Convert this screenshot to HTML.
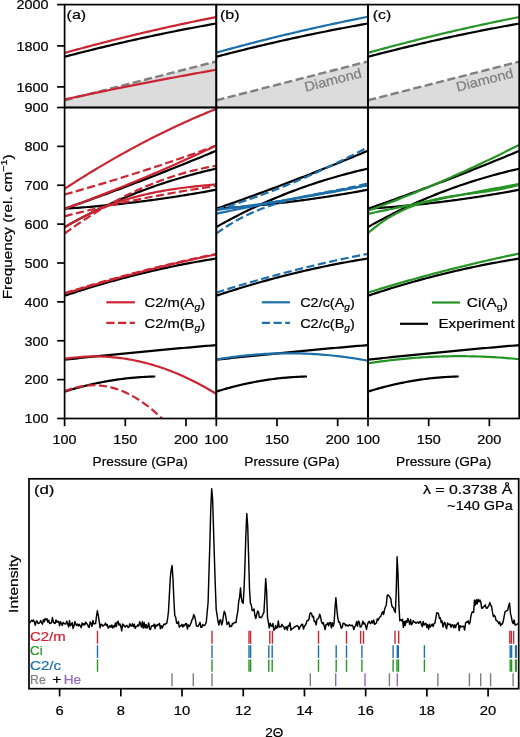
<!DOCTYPE html>
<html><head><meta charset="utf-8"><title>Figure</title>
<style>
html,body{margin:0;padding:0;background:#fff;width:520px;height:737px;overflow:hidden;}
svg{display:block;font-family:"Liberation Sans",sans-serif;will-change:transform;}
</style></head><body>
<svg width="520" height="737" viewBox="0 0 520 737" font-family="Liberation Sans, sans-serif">
<defs><clipPath id="u0"><rect x="64.6" y="4.6" width="151.7" height="102.9"/></clipPath><clipPath id="l0"><rect x="64.6" y="107.5" width="151.7" height="311"/></clipPath><clipPath id="u1"><rect x="216.3" y="4.6" width="151.7" height="102.9"/></clipPath><clipPath id="l1"><rect x="216.3" y="107.5" width="151.7" height="311"/></clipPath><clipPath id="u2"><rect x="368" y="4.6" width="151.2" height="102.9"/></clipPath><clipPath id="l2"><rect x="368" y="107.5" width="151.2" height="311"/></clipPath><clipPath id="dd"><rect x="29" y="478.8" width="489.7" height="209.9"/></clipPath></defs>
<rect width="520" height="737" fill="#fff"/>
<polygon points="64.6,100.3 216.3,61.47 216.3,107.5 64.6,107.5" fill="#dcdcdc"/>
<path d="M64.6,100.3 L216.3,61.47" fill="none" stroke="#7f7f7f" stroke-width="2.4" stroke-dasharray="8.2,3.5" clip-path="url(#u0)" stroke-linecap="butt" stroke-linejoin="round"/>
<path d="M64.6,56.78 L67.17,56.1 L69.74,55.43 L72.31,54.76 L74.88,54.1 L77.45,53.44 L80.02,52.79 L82.59,52.13 L85.16,51.49 L87.73,50.84 L90.29,50.2 L92.86,49.56 L95.43,48.93 L98,48.3 L100.57,47.68 L103.14,47.06 L105.71,46.44 L108.28,45.82 L110.85,45.21 L113.42,44.61 L115.99,44.01 L118.56,43.41 L121.13,42.81 L123.7,42.22 L126.27,41.64 L128.84,41.05 L131.41,40.47 L133.98,39.9 L136.55,39.33 L139.12,38.76 L141.68,38.19 L144.25,37.63 L146.82,37.08 L149.39,36.53 L151.96,35.98 L154.53,35.43 L157.1,34.89 L159.67,34.35 L162.24,33.82 L164.81,33.29 L167.38,32.77 L169.95,32.24 L172.52,31.73 L175.09,31.21 L177.66,30.7 L180.23,30.19 L182.8,29.69 L185.37,29.19 L187.94,28.7 L190.51,28.21 L193.07,27.72 L195.64,27.24 L198.21,26.76 L200.78,26.28 L203.35,25.81 L205.92,25.34 L208.49,24.88 L211.06,24.42 L213.63,23.96 L216.2,23.51" fill="none" stroke="#000" stroke-width="2.2" clip-path="url(#u0)" stroke-linecap="butt" stroke-linejoin="round"/>
<path d="M64.6,52.93 L67.17,52.22 L69.74,51.51 L72.31,50.8 L74.88,50.1 L77.45,49.41 L80.02,48.71 L82.59,48.02 L85.16,47.34 L87.73,46.65 L90.29,45.98 L92.86,45.3 L95.43,44.63 L98,43.96 L100.57,43.29 L103.14,42.63 L105.71,41.97 L108.28,41.32 L110.85,40.67 L113.42,40.02 L115.99,39.38 L118.56,38.74 L121.13,38.1 L123.7,37.47 L126.27,36.84 L128.84,36.22 L131.41,35.59 L133.98,34.97 L136.55,34.36 L139.12,33.75 L141.68,33.14 L144.25,32.54 L146.82,31.94 L149.39,31.34 L151.96,30.74 L154.53,30.15 L157.1,29.57 L159.67,28.98 L162.24,28.41 L164.81,27.83 L167.38,27.26 L169.95,26.69 L172.52,26.12 L175.09,25.56 L177.66,25 L180.23,24.45 L182.8,23.9 L185.37,23.35 L187.94,22.81 L190.51,22.27 L193.07,21.73 L195.64,21.2 L198.21,20.67 L200.78,20.14 L203.35,19.62 L205.92,19.1 L208.49,18.59 L211.06,18.07 L213.63,17.57 L216.2,17.06" fill="none" stroke="#cc2532" stroke-width="2.2" clip-path="url(#u0)" stroke-linecap="butt" stroke-linejoin="round"/>
<path d="M64.6,99.41 L67.17,98.86 L69.74,98.31 L72.31,97.76 L74.88,97.22 L77.45,96.67 L80.02,96.13 L82.59,95.59 L85.16,95.05 L87.73,94.51 L90.29,93.98 L92.86,93.44 L95.43,92.91 L98,92.38 L100.57,91.85 L103.14,91.32 L105.71,90.8 L108.28,90.27 L110.85,89.75 L113.42,89.23 L115.99,88.71 L118.56,88.2 L121.13,87.68 L123.7,87.17 L126.27,86.65 L128.84,86.14 L131.41,85.63 L133.98,85.13 L136.55,84.62 L139.12,84.12 L141.68,83.61 L144.25,83.11 L146.82,82.61 L149.39,82.11 L151.96,81.62 L154.53,81.12 L157.1,80.63 L159.67,80.14 L162.24,79.65 L164.81,79.16 L167.38,78.68 L169.95,78.19 L172.52,77.71 L175.09,77.23 L177.66,76.75 L180.23,76.27 L182.8,75.8 L185.37,75.32 L187.94,74.85 L190.51,74.38 L193.07,73.91 L195.64,73.44 L198.21,72.97 L200.78,72.51 L203.35,72.05 L205.92,71.59 L208.49,71.13 L211.06,70.67 L213.63,70.21 L216.2,69.76" fill="none" stroke="#cc2532" stroke-width="2.2" clip-path="url(#u0)" stroke-linecap="butt" stroke-linejoin="round"/>
<polygon points="216.3,100.3 368,61.47 368,107.5 216.3,107.5" fill="#dcdcdc"/>
<path d="M216.3,100.3 L368,61.47" fill="none" stroke="#7f7f7f" stroke-width="2.4" stroke-dasharray="8.2,3.5" clip-path="url(#u1)" stroke-linecap="butt" stroke-linejoin="round"/>
<path d="M216.3,56.78 L218.87,56.1 L221.44,55.43 L224.01,54.76 L226.58,54.1 L229.15,53.44 L231.72,52.79 L234.29,52.13 L236.86,51.49 L239.43,50.84 L241.99,50.2 L244.56,49.56 L247.13,48.93 L249.7,48.3 L252.27,47.68 L254.84,47.06 L257.41,46.44 L259.98,45.82 L262.55,45.21 L265.12,44.61 L267.69,44.01 L270.26,43.41 L272.83,42.81 L275.4,42.22 L277.97,41.64 L280.54,41.05 L283.11,40.47 L285.68,39.9 L288.25,39.33 L290.82,38.76 L293.38,38.19 L295.95,37.63 L298.52,37.08 L301.09,36.53 L303.66,35.98 L306.23,35.43 L308.8,34.89 L311.37,34.35 L313.94,33.82 L316.51,33.29 L319.08,32.77 L321.65,32.24 L324.22,31.73 L326.79,31.21 L329.36,30.7 L331.93,30.19 L334.5,29.69 L337.07,29.19 L339.64,28.7 L342.21,28.21 L344.77,27.72 L347.34,27.24 L349.91,26.76 L352.48,26.28 L355.05,25.81 L357.62,25.34 L360.19,24.88 L362.76,24.42 L365.33,23.96 L367.9,23.51" fill="none" stroke="#000" stroke-width="2.2" clip-path="url(#u1)" stroke-linecap="butt" stroke-linejoin="round"/>
<path d="M216.3,52.63 L218.87,51.92 L221.44,51.21 L224.01,50.5 L226.58,49.8 L229.15,49.11 L231.72,48.41 L234.29,47.72 L236.86,47.04 L239.43,46.35 L241.99,45.68 L244.56,45 L247.13,44.33 L249.7,43.66 L252.27,42.99 L254.84,42.33 L257.41,41.67 L259.98,41.02 L262.55,40.37 L265.12,39.72 L267.69,39.08 L270.26,38.44 L272.83,37.8 L275.4,37.17 L277.97,36.54 L280.54,35.92 L283.11,35.29 L285.68,34.67 L288.25,34.06 L290.82,33.45 L293.38,32.84 L295.95,32.24 L298.52,31.64 L301.09,31.04 L303.66,30.44 L306.23,29.85 L308.8,29.27 L311.37,28.68 L313.94,28.11 L316.51,27.53 L319.08,26.96 L321.65,26.39 L324.22,25.82 L326.79,25.26 L329.36,24.7 L331.93,24.15 L334.5,23.6 L337.07,23.05 L339.64,22.51 L342.21,21.97 L344.77,21.43 L347.34,20.9 L349.91,20.37 L352.48,19.84 L355.05,19.32 L357.62,18.8 L360.19,18.29 L362.76,17.77 L365.33,17.27 L367.9,16.76" fill="none" stroke="#1c6faa" stroke-width="2.2" clip-path="url(#u1)" stroke-linecap="butt" stroke-linejoin="round"/>
<polygon points="368,100.3 519.2,61.6 519.2,107.5 368,107.5" fill="#dcdcdc"/>
<path d="M368,100.3 L519.2,61.6" fill="none" stroke="#7f7f7f" stroke-width="2.4" stroke-dasharray="8.2,3.5" clip-path="url(#u2)" stroke-linecap="butt" stroke-linejoin="round"/>
<path d="M368,56.78 L370.57,56.1 L373.14,55.43 L375.71,54.76 L378.28,54.1 L380.85,53.44 L383.42,52.79 L385.99,52.13 L388.56,51.49 L391.13,50.84 L393.69,50.2 L396.26,49.56 L398.83,48.93 L401.4,48.3 L403.97,47.68 L406.54,47.06 L409.11,46.44 L411.68,45.82 L414.25,45.21 L416.82,44.61 L419.39,44.01 L421.96,43.41 L424.53,42.81 L427.1,42.22 L429.67,41.64 L432.24,41.05 L434.81,40.47 L437.38,39.9 L439.95,39.33 L442.52,38.76 L445.08,38.19 L447.65,37.63 L450.22,37.08 L452.79,36.53 L455.36,35.98 L457.93,35.43 L460.5,34.89 L463.07,34.35 L465.64,33.82 L468.21,33.29 L470.78,32.77 L473.35,32.24 L475.92,31.73 L478.49,31.21 L481.06,30.7 L483.63,30.19 L486.2,29.69 L488.77,29.19 L491.34,28.7 L493.91,28.21 L496.47,27.72 L499.04,27.24 L501.61,26.76 L504.18,26.28 L506.75,25.81 L509.32,25.34 L511.89,24.88 L514.46,24.42 L517.03,23.96 L519.6,23.51" fill="none" stroke="#000" stroke-width="2.2" clip-path="url(#u2)" stroke-linecap="butt" stroke-linejoin="round"/>
<path d="M368,52.83 L370.57,52.12 L373.14,51.41 L375.71,50.7 L378.28,50 L380.85,49.31 L383.42,48.61 L385.99,47.92 L388.56,47.24 L391.13,46.55 L393.69,45.88 L396.26,45.2 L398.83,44.53 L401.4,43.86 L403.97,43.19 L406.54,42.53 L409.11,41.87 L411.68,41.22 L414.25,40.57 L416.82,39.92 L419.39,39.28 L421.96,38.64 L424.53,38 L427.1,37.37 L429.67,36.74 L432.24,36.12 L434.81,35.49 L437.38,34.87 L439.95,34.26 L442.52,33.65 L445.08,33.04 L447.65,32.44 L450.22,31.84 L452.79,31.24 L455.36,30.64 L457.93,30.05 L460.5,29.47 L463.07,28.88 L465.64,28.31 L468.21,27.73 L470.78,27.16 L473.35,26.59 L475.92,26.02 L478.49,25.46 L481.06,24.9 L483.63,24.35 L486.2,23.8 L488.77,23.25 L491.34,22.71 L493.91,22.17 L496.47,21.63 L499.04,21.1 L501.61,20.57 L504.18,20.04 L506.75,19.52 L509.32,19 L511.89,18.49 L514.46,17.97 L517.03,17.47 L519.6,16.96" fill="none" stroke="#269526" stroke-width="2.2" clip-path="url(#u2)" stroke-linecap="butt" stroke-linejoin="round"/>
<text x="305.8" y="91.8" font-size="13.5" fill="#7f7f7f" transform="rotate(-14.4 305.8 91.8)" textLength="58.5" lengthAdjust="spacingAndGlyphs" stroke="#7f7f7f" stroke-width="0.22">Diamond</text>
<text x="457.5" y="91.8" font-size="13.5" fill="#7f7f7f" transform="rotate(-14.4 457.5 91.8)" textLength="58.5" lengthAdjust="spacingAndGlyphs" stroke="#7f7f7f" stroke-width="0.22">Diamond</text>
<path d="M64.6,208.75 L67.17,207.85 L69.74,206.96 L72.31,206.06 L74.88,205.16 L77.45,204.25 L80.02,203.35 L82.59,202.44 L85.16,201.52 L87.73,200.6 L90.29,199.68 L92.86,198.76 L95.43,197.83 L98,196.9 L100.57,195.97 L103.14,195.03 L105.71,194.1 L108.28,193.15 L110.85,192.21 L113.42,191.26 L115.99,190.31 L118.56,189.35 L121.13,188.39 L123.7,187.43 L126.27,186.47 L128.84,185.5 L131.41,184.53 L133.98,183.56 L136.55,182.58 L139.12,181.6 L141.68,180.62 L144.25,179.63 L146.82,178.64 L149.39,177.65 L151.96,176.66 L154.53,175.66 L157.1,174.66 L159.67,173.65 L162.24,172.64 L164.81,171.63 L167.38,170.62 L169.95,169.6 L172.52,168.58 L175.09,167.55 L177.66,166.53 L180.23,165.5 L182.8,164.47 L185.37,163.43 L187.94,162.39 L190.51,161.35 L193.07,160.3 L195.64,159.25 L198.21,158.2 L200.78,157.15 L203.35,156.09 L205.92,155.03 L208.49,153.96 L211.06,152.89 L213.63,151.82 L216.2,150.75" fill="none" stroke="#000" stroke-width="2.2" clip-path="url(#l0)" stroke-linecap="butt" stroke-linejoin="round"/>
<path d="M64.6,227.04 L67.17,225.59 L69.74,224.16 L72.31,222.75 L74.88,221.36 L77.45,219.98 L80.02,218.62 L82.59,217.28 L85.16,215.95 L87.73,214.64 L90.29,213.35 L92.86,212.07 L95.43,210.81 L98,209.57 L100.57,208.35 L103.14,207.14 L105.71,205.94 L108.28,204.76 L110.85,203.6 L113.42,202.46 L115.99,201.33 L118.56,200.21 L121.13,199.12 L123.7,198.03 L126.27,196.97 L128.84,195.91 L131.41,194.88 L133.98,193.86 L136.55,192.85 L139.12,191.86 L141.68,190.88 L144.25,189.92 L146.82,188.98 L149.39,188.04 L151.96,187.13 L154.53,186.22 L157.1,185.33 L159.67,184.46 L162.24,183.6 L164.81,182.75 L167.38,181.92 L169.95,181.1 L172.52,180.3 L175.09,179.51 L177.66,178.73 L180.23,177.97 L182.8,177.21 L185.37,176.48 L187.94,175.75 L190.51,175.04 L193.07,174.34 L195.64,173.66 L198.21,172.99 L200.78,172.33 L203.35,171.68 L205.92,171.05 L208.49,170.43 L211.06,169.82 L213.63,169.22 L216.2,168.63" fill="none" stroke="#000" stroke-width="2.2" clip-path="url(#l0)" stroke-linecap="butt" stroke-linejoin="round"/>
<path d="M64.6,208.68 L67.17,208.52 L69.74,208.35 L72.31,208.18 L74.88,208 L77.45,207.81 L80.02,207.62 L82.59,207.43 L85.16,207.23 L87.73,207.02 L90.29,206.81 L92.86,206.59 L95.43,206.37 L98,206.14 L100.57,205.9 L103.14,205.66 L105.71,205.42 L108.28,205.17 L110.85,204.91 L113.42,204.65 L115.99,204.38 L118.56,204.11 L121.13,203.83 L123.7,203.55 L126.27,203.26 L128.84,202.97 L131.41,202.67 L133.98,202.36 L136.55,202.05 L139.12,201.74 L141.68,201.41 L144.25,201.09 L146.82,200.76 L149.39,200.42 L151.96,200.07 L154.53,199.72 L157.1,199.37 L159.67,199.01 L162.24,198.65 L164.81,198.27 L167.38,197.9 L169.95,197.52 L172.52,197.13 L175.09,196.74 L177.66,196.34 L180.23,195.94 L182.8,195.53 L185.37,195.11 L187.94,194.69 L190.51,194.27 L193.07,193.84 L195.64,193.4 L198.21,192.96 L200.78,192.51 L203.35,192.06 L205.92,191.6 L208.49,191.14 L211.06,190.67 L213.63,190.19 L216.2,189.71" fill="none" stroke="#000" stroke-width="2.2" clip-path="url(#l0)" stroke-linecap="butt" stroke-linejoin="round"/>
<path d="M64.6,295.7 L67.17,294.85 L69.74,294 L72.31,293.17 L74.88,292.34 L77.45,291.52 L80.02,290.7 L82.59,289.9 L85.16,289.1 L87.73,288.31 L90.29,287.52 L92.86,286.75 L95.43,285.98 L98,285.22 L100.57,284.47 L103.14,283.72 L105.71,282.98 L108.28,282.26 L110.85,281.53 L113.42,280.82 L115.99,280.11 L118.56,279.41 L121.13,278.72 L123.7,278.04 L126.27,277.36 L128.84,276.69 L131.41,276.03 L133.98,275.38 L136.55,274.73 L139.12,274.09 L141.68,273.46 L144.25,272.84 L146.82,272.22 L149.39,271.62 L151.96,271.02 L154.53,270.42 L157.1,269.84 L159.67,269.26 L162.24,268.69 L164.81,268.13 L167.38,267.58 L169.95,267.03 L172.52,266.49 L175.09,265.96 L177.66,265.44 L180.23,264.92 L182.8,264.41 L185.37,263.91 L187.94,263.42 L190.51,262.93 L193.07,262.46 L195.64,261.99 L198.21,261.52 L200.78,261.07 L203.35,260.62 L205.92,260.18 L208.49,259.75 L211.06,259.33 L213.63,258.91 L216.2,258.5" fill="none" stroke="#000" stroke-width="2.2" clip-path="url(#l0)" stroke-linecap="butt" stroke-linejoin="round"/>
<path d="M64.6,359.67 L67.17,359.39 L69.74,359.12 L72.31,358.84 L74.88,358.57 L77.45,358.29 L80.02,358.02 L82.59,357.75 L85.16,357.48 L87.73,357.21 L90.29,356.94 L92.86,356.68 L95.43,356.41 L98,356.14 L100.57,355.88 L103.14,355.62 L105.71,355.36 L108.28,355.09 L110.85,354.84 L113.42,354.58 L115.99,354.32 L118.56,354.06 L121.13,353.81 L123.7,353.55 L126.27,353.3 L128.84,353.05 L131.41,352.8 L133.98,352.55 L136.55,352.3 L139.12,352.05 L141.68,351.8 L144.25,351.56 L146.82,351.31 L149.39,351.07 L151.96,350.82 L154.53,350.58 L157.1,350.34 L159.67,350.1 L162.24,349.86 L164.81,349.63 L167.38,349.39 L169.95,349.15 L172.52,348.92 L175.09,348.69 L177.66,348.45 L180.23,348.22 L182.8,347.99 L185.37,347.76 L187.94,347.54 L190.51,347.31 L193.07,347.08 L195.64,346.86 L198.21,346.63 L200.78,346.41 L203.35,346.19 L205.92,345.97 L208.49,345.75 L211.06,345.53 L213.63,345.31 L216.2,345.1" fill="none" stroke="#000" stroke-width="2.2" clip-path="url(#l0)" stroke-linecap="butt" stroke-linejoin="round"/>
<path d="M64.6,391.6 L66.14,391.12 L67.67,390.66 L69.21,390.19 L70.75,389.74 L72.29,389.29 L73.82,388.85 L75.36,388.42 L76.9,388 L78.44,387.58 L79.97,387.17 L81.51,386.77 L83.05,386.38 L84.58,385.99 L86.12,385.61 L87.66,385.24 L89.2,384.88 L90.73,384.53 L92.27,384.18 L93.81,383.84 L95.35,383.51 L96.88,383.18 L98.42,382.86 L99.96,382.55 L101.49,382.25 L103.03,381.96 L104.57,381.67 L106.11,381.39 L107.64,381.12 L109.18,380.86 L110.72,380.6 L112.26,380.35 L113.79,380.11 L115.33,379.88 L116.87,379.65 L118.41,379.43 L119.94,379.22 L121.48,379.02 L123.02,378.82 L124.55,378.64 L126.09,378.46 L127.63,378.28 L129.17,378.12 L130.7,377.96 L132.24,377.81 L133.78,377.67 L135.32,377.53 L136.85,377.41 L138.39,377.29 L139.93,377.18 L141.46,377.07 L143,376.98 L144.54,376.89 L146.08,376.81 L147.61,376.73 L149.15,376.67 L150.69,376.61 L152.23,376.56 L153.76,376.51 L155.3,376.48" fill="none" stroke="#000" stroke-width="2.2" clip-path="url(#l0)" stroke-linecap="butt" stroke-linejoin="round"/>
<path d="M64.6,188.8 L67.17,187.13 L69.74,185.47 L72.31,183.81 L74.88,182.17 L77.45,180.54 L80.02,178.93 L82.59,177.32 L85.16,175.72 L87.73,174.14 L90.29,172.56 L92.86,171 L95.43,169.45 L98,167.91 L100.57,166.37 L103.14,164.86 L105.71,163.35 L108.28,161.85 L110.85,160.36 L113.42,158.89 L115.99,157.42 L118.56,155.97 L121.13,154.53 L123.7,153.1 L126.27,151.68 L128.84,150.27 L131.41,148.87 L133.98,147.48 L136.55,146.11 L139.12,144.74 L141.68,143.39 L144.25,142.04 L146.82,140.71 L149.39,139.39 L151.96,138.08 L154.53,136.78 L157.1,135.49 L159.67,134.21 L162.24,132.95 L164.81,131.69 L167.38,130.45 L169.95,129.21 L172.52,127.99 L175.09,126.78 L177.66,125.58 L180.23,124.39 L182.8,123.21 L185.37,122.05 L187.94,120.89 L190.51,119.75 L193.07,118.61 L195.64,117.49 L198.21,116.38 L200.78,115.27 L203.35,114.18 L205.92,113.11 L208.49,112.04 L211.06,110.98 L213.63,109.93 L216.2,108.9" fill="none" stroke="#cc2532" stroke-width="2.2" clip-path="url(#l0)" stroke-linecap="butt" stroke-linejoin="round"/>
<path d="M64.6,194.5 L67.17,193.79 L69.74,193.07 L72.31,192.35 L74.88,191.62 L77.45,190.89 L80.02,190.16 L82.59,189.42 L85.16,188.67 L87.73,187.93 L90.29,187.18 L92.86,186.42 L95.43,185.66 L98,184.9 L100.57,184.14 L103.14,183.37 L105.71,182.59 L108.28,181.81 L110.85,181.03 L113.42,180.25 L115.99,179.46 L118.56,178.66 L121.13,177.86 L123.7,177.06 L126.27,176.26 L128.84,175.45 L131.41,174.63 L133.98,173.82 L136.55,173 L139.12,172.17 L141.68,171.34 L144.25,170.51 L146.82,169.67 L149.39,168.83 L151.96,167.99 L154.53,167.14 L157.1,166.28 L159.67,165.43 L162.24,164.57 L164.81,163.7 L167.38,162.83 L169.95,161.96 L172.52,161.09 L175.09,160.21 L177.66,159.32 L180.23,158.43 L182.8,157.54 L185.37,156.65 L187.94,155.75 L190.51,154.84 L193.07,153.93 L195.64,153.02 L198.21,152.11 L200.78,151.19 L203.35,150.26 L205.92,149.34 L208.49,148.41 L211.06,147.47 L213.63,146.53 L216.2,145.59" fill="none" stroke="#cc2532" stroke-width="2.2" stroke-dasharray="8.2,3.5" clip-path="url(#l0)" stroke-linecap="butt" stroke-linejoin="round"/>
<path d="M64.6,208.84 L67.17,207.91 L69.74,206.98 L72.31,206.04 L74.88,205.1 L77.45,204.15 L80.02,203.19 L82.59,202.24 L85.16,201.27 L87.73,200.3 L90.29,199.33 L92.86,198.35 L95.43,197.37 L98,196.38 L100.57,195.39 L103.14,194.39 L105.71,193.39 L108.28,192.38 L110.85,191.36 L113.42,190.35 L115.99,189.32 L118.56,188.29 L121.13,187.26 L123.7,186.22 L126.27,185.18 L128.84,184.13 L131.41,183.08 L133.98,182.02 L136.55,180.95 L139.12,179.88 L141.68,178.81 L144.25,177.73 L146.82,176.65 L149.39,175.56 L151.96,174.46 L154.53,173.37 L157.1,172.26 L159.67,171.15 L162.24,170.04 L164.81,168.92 L167.38,167.79 L169.95,166.67 L172.52,165.53 L175.09,164.39 L177.66,163.25 L180.23,162.1 L182.8,160.94 L185.37,159.79 L187.94,158.62 L190.51,157.45 L193.07,156.28 L195.64,155.1 L198.21,153.91 L200.78,152.72 L203.35,151.53 L205.92,150.33 L208.49,149.13 L211.06,147.92 L213.63,146.7 L216.2,145.48" fill="none" stroke="#cc2532" stroke-width="2.2" clip-path="url(#l0)" stroke-linecap="butt" stroke-linejoin="round"/>
<path d="M64.6,216.21 L67.17,215.56 L69.74,214.92 L72.31,214.28 L74.88,213.65 L77.45,213.02 L80.02,212.39 L82.59,211.77 L85.16,211.16 L87.73,210.54 L90.29,209.94 L92.86,209.34 L95.43,208.74 L98,208.15 L100.57,207.56 L103.14,206.98 L105.71,206.4 L108.28,205.82 L110.85,205.25 L113.42,204.69 L115.99,204.13 L118.56,203.57 L121.13,203.02 L123.7,202.48 L126.27,201.94 L128.84,201.4 L131.41,200.87 L133.98,200.34 L136.55,199.82 L139.12,199.3 L141.68,198.78 L144.25,198.28 L146.82,197.77 L149.39,197.27 L151.96,196.78 L154.53,196.28 L157.1,195.8 L159.67,195.32 L162.24,194.84 L164.81,194.37 L167.38,193.9 L169.95,193.44 L172.52,192.98 L175.09,192.53 L177.66,192.08 L180.23,191.63 L182.8,191.19 L185.37,190.76 L187.94,190.33 L190.51,189.9 L193.07,189.48 L195.64,189.07 L198.21,188.65 L200.78,188.25 L203.35,187.84 L205.92,187.45 L208.49,187.05 L211.06,186.66 L213.63,186.28 L216.2,185.9" fill="none" stroke="#cc2532" stroke-width="2.2" stroke-dasharray="8.2,3.5" clip-path="url(#l0)" stroke-linecap="butt" stroke-linejoin="round"/>
<path d="M64.6,227.58 L66.52,226.38 L68.44,225.2 L70.36,224.05 L72.28,222.92 L74.19,221.82 L76.11,220.73 L78.03,219.67 L79.95,218.63 L81.87,217.61 L83.79,216.62 L85.71,215.64 L87.63,214.69 L89.55,213.76 L91.47,212.84 L93.38,211.95 L95.3,211.08 L97.22,210.23 L99.14,209.39 L101.06,208.58 L102.98,207.78 L104.9,207 L106.82,206.24 L108.74,205.5 L110.66,204.78 L112.57,204.07 L114.49,203.38 L116.41,202.71 L118.33,202.06 L120.25,201.42 L122.17,200.79 L124.09,200.19 L126.01,199.6 L127.93,199.02 L129.85,198.46 L131.76,197.91 L133.68,197.38 L135.6,196.86 L137.52,196.36 L139.44,195.87 L141.36,195.39 L143.28,194.93 L145.2,194.48 L147.12,194.04 L149.04,193.61 L150.95,193.2 L152.87,192.8 L154.79,192.41 L156.71,192.03 L158.63,191.66 L160.55,191.3 L162.47,190.95 L164.39,190.62 L166.31,190.29 L168.23,189.97 L170.14,189.67 L172.06,189.37 L173.98,189.08 L175.9,188.8 L177.82,188.52 L179.74,188.26 L181.66,188 L183.58,187.75 L185.5,187.51 L187.42,187.28 L189.33,187.05 L191.25,186.83 L193.17,186.61 L195.09,186.4 L197.01,186.2 L198.93,186 L200.85,185.8 L202.77,185.62 L204.69,185.43 L206.61,185.25 L208.52,185.08 L210.44,184.9 L212.36,184.73 L214.28,184.57 L216.2,184.41" fill="none" stroke="#cc2532" stroke-width="2.2" clip-path="url(#l0)" stroke-linecap="butt" stroke-linejoin="round"/>
<path d="M64.6,233.55 L67.17,231.67 L69.74,229.82 L72.31,227.99 L74.88,226.19 L77.45,224.41 L80.02,222.66 L82.59,220.93 L85.16,219.24 L87.73,217.56 L90.29,215.92 L92.86,214.29 L95.43,212.7 L98,211.13 L100.57,209.58 L103.14,208.07 L105.71,206.57 L108.28,205.1 L110.85,203.66 L113.42,202.24 L115.99,200.85 L118.56,199.49 L121.13,198.14 L123.7,196.83 L126.27,195.54 L128.84,194.27 L131.41,193.03 L133.98,191.81 L136.55,190.62 L139.12,189.45 L141.68,188.31 L144.25,187.2 L146.82,186.1 L149.39,185.04 L151.96,183.99 L154.53,182.97 L157.1,181.98 L159.67,181.01 L162.24,180.07 L164.81,179.15 L167.38,178.25 L169.95,177.38 L172.52,176.53 L175.09,175.71 L177.66,174.91 L180.23,174.13 L182.8,173.38 L185.37,172.65 L187.94,171.95 L190.51,171.27 L193.07,170.61 L195.64,169.98 L198.21,169.37 L200.78,168.79 L203.35,168.23 L205.92,167.69 L208.49,167.18 L211.06,166.69 L213.63,166.22 L216.2,165.78" fill="none" stroke="#cc2532" stroke-width="2.2" stroke-dasharray="8.2,3.5" clip-path="url(#l0)" stroke-linecap="butt" stroke-linejoin="round"/>
<path d="M64.6,293.2 L67.17,292.39 L69.74,291.59 L72.31,290.8 L74.88,290 L77.45,289.22 L80.02,288.44 L82.59,287.66 L85.16,286.89 L87.73,286.12 L90.29,285.36 L92.86,284.6 L95.43,283.85 L98,283.1 L100.57,282.36 L103.14,281.62 L105.71,280.89 L108.28,280.16 L110.85,279.43 L113.42,278.72 L115.99,278 L118.56,277.29 L121.13,276.59 L123.7,275.89 L126.27,275.2 L128.84,274.51 L131.41,273.83 L133.98,273.15 L136.55,272.47 L139.12,271.8 L141.68,271.14 L144.25,270.48 L146.82,269.82 L149.39,269.18 L151.96,268.53 L154.53,267.89 L157.1,267.26 L159.67,266.63 L162.24,266 L164.81,265.38 L167.38,264.76 L169.95,264.15 L172.52,263.55 L175.09,262.95 L177.66,262.35 L180.23,261.76 L182.8,261.17 L185.37,260.59 L187.94,260.02 L190.51,259.45 L193.07,258.88 L195.64,258.32 L198.21,257.76 L200.78,257.21 L203.35,256.66 L205.92,256.12 L208.49,255.58 L211.06,255.05 L213.63,254.52 L216.2,254" fill="none" stroke="#cc2532" stroke-width="2.2" stroke-dasharray="8.2,3.5" clip-path="url(#l0)" stroke-linecap="butt" stroke-linejoin="round"/>
<path d="M64.6,293.8 L67.17,293 L69.74,292.2 L72.31,291.4 L74.88,290.62 L77.45,289.83 L80.02,289.05 L82.59,288.28 L85.16,287.51 L87.73,286.74 L90.29,285.98 L92.86,285.22 L95.43,284.47 L98,283.72 L100.57,282.98 L103.14,282.24 L105.71,281.51 L108.28,280.78 L110.85,280.06 L113.42,279.34 L115.99,278.62 L118.56,277.91 L121.13,277.21 L123.7,276.51 L126.27,275.81 L128.84,275.12 L131.41,274.44 L133.98,273.75 L136.55,273.08 L139.12,272.4 L141.68,271.74 L144.25,271.07 L146.82,270.42 L149.39,269.76 L151.96,269.11 L154.53,268.47 L157.1,267.83 L159.67,267.19 L162.24,266.56 L164.81,265.94 L167.38,265.32 L169.95,264.7 L172.52,264.09 L175.09,263.48 L177.66,262.88 L180.23,262.28 L182.8,261.69 L185.37,261.1 L187.94,260.51 L190.51,259.93 L193.07,259.36 L195.64,258.79 L198.21,258.23 L200.78,257.66 L203.35,257.11 L205.92,256.56 L208.49,256.01 L211.06,255.47 L213.63,254.93 L216.2,254.4" fill="none" stroke="#cc2532" stroke-width="2.2" clip-path="url(#l0)" stroke-linecap="butt" stroke-linejoin="round"/>
<path d="M64.6,358.84 L67.17,358.45 L69.74,358.1 L72.31,357.78 L74.88,357.5 L77.45,357.25 L80.02,357.03 L82.59,356.85 L85.16,356.7 L87.73,356.58 L90.29,356.5 L92.86,356.45 L95.43,356.44 L98,356.46 L100.57,356.51 L103.14,356.6 L105.71,356.72 L108.28,356.87 L110.85,357.06 L113.42,357.28 L115.99,357.54 L118.56,357.83 L121.13,358.15 L123.7,358.51 L126.27,358.9 L128.84,359.32 L131.41,359.78 L133.98,360.27 L136.55,360.8 L139.12,361.36 L141.68,361.95 L144.25,362.58 L146.82,363.24 L149.39,363.94 L151.96,364.67 L154.53,365.43 L157.1,366.23 L159.67,367.06 L162.24,367.92 L164.81,368.82 L167.38,369.75 L169.95,370.71 L172.52,371.71 L175.09,372.75 L177.66,373.81 L180.23,374.91 L182.8,376.05 L185.37,377.22 L187.94,378.42 L190.51,379.65 L193.07,380.92 L195.64,382.23 L198.21,383.56 L200.78,384.94 L203.35,386.34 L205.92,387.78 L208.49,389.25 L211.06,390.76 L213.63,392.3 L216.2,393.87" fill="none" stroke="#cc2532" stroke-width="2.2" clip-path="url(#l0)" stroke-linecap="butt" stroke-linejoin="round"/>
<path d="M64.6,391.29 L66.38,390.58 L68.16,389.9 L69.94,389.28 L71.72,388.7 L73.5,388.16 L75.28,387.67 L77.06,387.23 L78.84,386.83 L80.62,386.47 L82.4,386.17 L84.18,385.9 L85.96,385.68 L87.74,385.51 L89.52,385.38 L91.29,385.3 L93.07,385.26 L94.85,385.27 L96.63,385.32 L98.41,385.42 L100.19,385.56 L101.97,385.75 L103.75,385.98 L105.53,386.26 L107.31,386.58 L109.09,386.95 L110.87,387.36 L112.65,387.82 L114.43,388.33 L116.21,388.88 L117.99,389.47 L119.77,390.11 L121.55,390.8 L123.33,391.53 L125.11,392.3 L126.89,393.12 L128.67,393.99 L130.45,394.9 L132.23,395.86 L134.01,396.86 L135.79,397.9 L137.57,399 L139.35,400.13 L141.13,401.32 L142.91,402.54 L144.68,403.82 L146.46,405.13 L148.24,406.5 L150.02,407.9 L151.8,409.36 L153.58,410.86 L155.36,412.4 L157.14,413.99 L158.92,415.62 L160.7,417.3 L162.48,419.03 L164.26,420.8 L166.04,422.61 L167.82,424.47 L169.6,426.38" fill="none" stroke="#cc2532" stroke-width="2.2" stroke-dasharray="8.2,3.5" clip-path="url(#l0)" stroke-linecap="butt" stroke-linejoin="round"/>
<path d="M216.3,208.75 L218.87,207.85 L221.44,206.96 L224.01,206.06 L226.58,205.16 L229.15,204.25 L231.72,203.35 L234.29,202.44 L236.86,201.52 L239.43,200.6 L241.99,199.68 L244.56,198.76 L247.13,197.83 L249.7,196.9 L252.27,195.97 L254.84,195.03 L257.41,194.1 L259.98,193.15 L262.55,192.21 L265.12,191.26 L267.69,190.31 L270.26,189.35 L272.83,188.39 L275.4,187.43 L277.97,186.47 L280.54,185.5 L283.11,184.53 L285.68,183.56 L288.25,182.58 L290.82,181.6 L293.38,180.62 L295.95,179.63 L298.52,178.64 L301.09,177.65 L303.66,176.66 L306.23,175.66 L308.8,174.66 L311.37,173.65 L313.94,172.64 L316.51,171.63 L319.08,170.62 L321.65,169.6 L324.22,168.58 L326.79,167.55 L329.36,166.53 L331.93,165.5 L334.5,164.47 L337.07,163.43 L339.64,162.39 L342.21,161.35 L344.77,160.3 L347.34,159.25 L349.91,158.2 L352.48,157.15 L355.05,156.09 L357.62,155.03 L360.19,153.96 L362.76,152.89 L365.33,151.82 L367.9,150.75" fill="none" stroke="#000" stroke-width="2.2" clip-path="url(#l1)" stroke-linecap="butt" stroke-linejoin="round"/>
<path d="M216.3,227.04 L218.87,225.59 L221.44,224.16 L224.01,222.75 L226.58,221.36 L229.15,219.98 L231.72,218.62 L234.29,217.28 L236.86,215.95 L239.43,214.64 L241.99,213.35 L244.56,212.07 L247.13,210.81 L249.7,209.57 L252.27,208.35 L254.84,207.14 L257.41,205.94 L259.98,204.76 L262.55,203.6 L265.12,202.46 L267.69,201.33 L270.26,200.21 L272.83,199.12 L275.4,198.03 L277.97,196.97 L280.54,195.91 L283.11,194.88 L285.68,193.86 L288.25,192.85 L290.82,191.86 L293.38,190.88 L295.95,189.92 L298.52,188.98 L301.09,188.04 L303.66,187.13 L306.23,186.22 L308.8,185.33 L311.37,184.46 L313.94,183.6 L316.51,182.75 L319.08,181.92 L321.65,181.1 L324.22,180.3 L326.79,179.51 L329.36,178.73 L331.93,177.97 L334.5,177.21 L337.07,176.48 L339.64,175.75 L342.21,175.04 L344.77,174.34 L347.34,173.66 L349.91,172.99 L352.48,172.33 L355.05,171.68 L357.62,171.05 L360.19,170.43 L362.76,169.82 L365.33,169.22 L367.9,168.63" fill="none" stroke="#000" stroke-width="2.2" clip-path="url(#l1)" stroke-linecap="butt" stroke-linejoin="round"/>
<path d="M216.3,208.68 L218.87,208.52 L221.44,208.35 L224.01,208.18 L226.58,208 L229.15,207.81 L231.72,207.62 L234.29,207.43 L236.86,207.23 L239.43,207.02 L241.99,206.81 L244.56,206.59 L247.13,206.37 L249.7,206.14 L252.27,205.9 L254.84,205.66 L257.41,205.42 L259.98,205.17 L262.55,204.91 L265.12,204.65 L267.69,204.38 L270.26,204.11 L272.83,203.83 L275.4,203.55 L277.97,203.26 L280.54,202.97 L283.11,202.67 L285.68,202.36 L288.25,202.05 L290.82,201.74 L293.38,201.41 L295.95,201.09 L298.52,200.76 L301.09,200.42 L303.66,200.07 L306.23,199.72 L308.8,199.37 L311.37,199.01 L313.94,198.65 L316.51,198.27 L319.08,197.9 L321.65,197.52 L324.22,197.13 L326.79,196.74 L329.36,196.34 L331.93,195.94 L334.5,195.53 L337.07,195.11 L339.64,194.69 L342.21,194.27 L344.77,193.84 L347.34,193.4 L349.91,192.96 L352.48,192.51 L355.05,192.06 L357.62,191.6 L360.19,191.14 L362.76,190.67 L365.33,190.19 L367.9,189.71" fill="none" stroke="#000" stroke-width="2.2" clip-path="url(#l1)" stroke-linecap="butt" stroke-linejoin="round"/>
<path d="M216.3,295.7 L218.87,294.85 L221.44,294 L224.01,293.17 L226.58,292.34 L229.15,291.52 L231.72,290.7 L234.29,289.9 L236.86,289.1 L239.43,288.31 L241.99,287.52 L244.56,286.75 L247.13,285.98 L249.7,285.22 L252.27,284.47 L254.84,283.72 L257.41,282.98 L259.98,282.26 L262.55,281.53 L265.12,280.82 L267.69,280.11 L270.26,279.41 L272.83,278.72 L275.4,278.04 L277.97,277.36 L280.54,276.69 L283.11,276.03 L285.68,275.38 L288.25,274.73 L290.82,274.09 L293.38,273.46 L295.95,272.84 L298.52,272.22 L301.09,271.62 L303.66,271.02 L306.23,270.42 L308.8,269.84 L311.37,269.26 L313.94,268.69 L316.51,268.13 L319.08,267.58 L321.65,267.03 L324.22,266.49 L326.79,265.96 L329.36,265.44 L331.93,264.92 L334.5,264.41 L337.07,263.91 L339.64,263.42 L342.21,262.93 L344.77,262.46 L347.34,261.99 L349.91,261.52 L352.48,261.07 L355.05,260.62 L357.62,260.18 L360.19,259.75 L362.76,259.33 L365.33,258.91 L367.9,258.5" fill="none" stroke="#000" stroke-width="2.2" clip-path="url(#l1)" stroke-linecap="butt" stroke-linejoin="round"/>
<path d="M216.3,359.67 L218.87,359.39 L221.44,359.12 L224.01,358.84 L226.58,358.57 L229.15,358.29 L231.72,358.02 L234.29,357.75 L236.86,357.48 L239.43,357.21 L241.99,356.94 L244.56,356.68 L247.13,356.41 L249.7,356.14 L252.27,355.88 L254.84,355.62 L257.41,355.36 L259.98,355.09 L262.55,354.84 L265.12,354.58 L267.69,354.32 L270.26,354.06 L272.83,353.81 L275.4,353.55 L277.97,353.3 L280.54,353.05 L283.11,352.8 L285.68,352.55 L288.25,352.3 L290.82,352.05 L293.38,351.8 L295.95,351.56 L298.52,351.31 L301.09,351.07 L303.66,350.82 L306.23,350.58 L308.8,350.34 L311.37,350.1 L313.94,349.86 L316.51,349.63 L319.08,349.39 L321.65,349.15 L324.22,348.92 L326.79,348.69 L329.36,348.45 L331.93,348.22 L334.5,347.99 L337.07,347.76 L339.64,347.54 L342.21,347.31 L344.77,347.08 L347.34,346.86 L349.91,346.63 L352.48,346.41 L355.05,346.19 L357.62,345.97 L360.19,345.75 L362.76,345.53 L365.33,345.31 L367.9,345.1" fill="none" stroke="#000" stroke-width="2.2" clip-path="url(#l1)" stroke-linecap="butt" stroke-linejoin="round"/>
<path d="M216.3,391.6 L217.84,391.12 L219.37,390.66 L220.91,390.19 L222.45,389.74 L223.99,389.29 L225.52,388.85 L227.06,388.42 L228.6,388 L230.14,387.58 L231.67,387.17 L233.21,386.77 L234.75,386.38 L236.28,385.99 L237.82,385.61 L239.36,385.24 L240.9,384.88 L242.43,384.53 L243.97,384.18 L245.51,383.84 L247.05,383.51 L248.58,383.18 L250.12,382.86 L251.66,382.55 L253.19,382.25 L254.73,381.96 L256.27,381.67 L257.81,381.39 L259.34,381.12 L260.88,380.86 L262.42,380.6 L263.96,380.35 L265.49,380.11 L267.03,379.88 L268.57,379.65 L270.11,379.43 L271.64,379.22 L273.18,379.02 L274.72,378.82 L276.25,378.64 L277.79,378.46 L279.33,378.28 L280.87,378.12 L282.4,377.96 L283.94,377.81 L285.48,377.67 L287.02,377.53 L288.55,377.41 L290.09,377.29 L291.63,377.18 L293.16,377.07 L294.7,376.98 L296.24,376.89 L297.78,376.81 L299.31,376.73 L300.85,376.67 L302.39,376.61 L303.93,376.56 L305.46,376.51 L307,376.48" fill="none" stroke="#000" stroke-width="2.2" clip-path="url(#l1)" stroke-linecap="butt" stroke-linejoin="round"/>
<path d="M216.3,209.9 L218.87,209.13 L221.44,208.36 L224.01,207.57 L226.58,206.77 L229.15,205.96 L231.72,205.14 L234.29,204.32 L236.86,203.48 L239.43,202.63 L241.99,201.77 L244.56,200.9 L247.13,200.02 L249.7,199.13 L252.27,198.23 L254.84,197.32 L257.41,196.4 L259.98,195.47 L262.55,194.53 L265.12,193.58 L267.69,192.62 L270.26,191.65 L272.83,190.67 L275.4,189.67 L277.97,188.67 L280.54,187.66 L283.11,186.64 L285.68,185.61 L288.25,184.56 L290.82,183.51 L293.38,182.45 L295.95,181.38 L298.52,180.29 L301.09,179.2 L303.66,178.1 L306.23,176.98 L308.8,175.86 L311.37,174.73 L313.94,173.58 L316.51,172.43 L319.08,171.26 L321.65,170.09 L324.22,168.91 L326.79,167.71 L329.36,166.51 L331.93,165.29 L334.5,164.07 L337.07,162.83 L339.64,161.58 L342.21,160.33 L344.77,159.06 L347.34,157.79 L349.91,156.5 L352.48,155.2 L355.05,153.9 L357.62,152.58 L360.19,151.25 L362.76,149.92 L365.33,148.57 L367.9,147.21" fill="none" stroke="#1c6faa" stroke-width="2.2" stroke-dasharray="8.2,3.5" clip-path="url(#l1)" stroke-linecap="butt" stroke-linejoin="round"/>
<path d="M216.3,209.96 L218.87,209.64 L221.44,209.33 L224.01,209.01 L226.58,208.68 L229.15,208.35 L231.72,208.02 L234.29,207.68 L236.86,207.34 L239.43,207 L241.99,206.65 L244.56,206.3 L247.13,205.94 L249.7,205.58 L252.27,205.22 L254.84,204.85 L257.41,204.48 L259.98,204.1 L262.55,203.73 L265.12,203.34 L267.69,202.96 L270.26,202.57 L272.83,202.17 L275.4,201.78 L277.97,201.37 L280.54,200.97 L283.11,200.56 L285.68,200.15 L288.25,199.73 L290.82,199.31 L293.38,198.89 L295.95,198.46 L298.52,198.03 L301.09,197.59 L303.66,197.15 L306.23,196.71 L308.8,196.26 L311.37,195.81 L313.94,195.36 L316.51,194.9 L319.08,194.44 L321.65,193.97 L324.22,193.5 L326.79,193.03 L329.36,192.55 L331.93,192.07 L334.5,191.59 L337.07,191.1 L339.64,190.6 L342.21,190.11 L344.77,189.61 L347.34,189.1 L349.91,188.6 L352.48,188.09 L355.05,187.57 L357.62,187.05 L360.19,186.53 L362.76,186 L365.33,185.47 L367.9,184.94" fill="none" stroke="#1c6faa" stroke-width="2.2" clip-path="url(#l1)" stroke-linecap="butt" stroke-linejoin="round"/>
<path d="M216.3,213.65 L218.87,213.13 L221.44,212.6 L224.01,212.08 L226.58,211.55 L229.15,211.03 L231.72,210.52 L234.29,210 L236.86,209.48 L239.43,208.97 L241.99,208.46 L244.56,207.95 L247.13,207.44 L249.7,206.93 L252.27,206.42 L254.84,205.92 L257.41,205.42 L259.98,204.92 L262.55,204.42 L265.12,203.92 L267.69,203.43 L270.26,202.93 L272.83,202.44 L275.4,201.95 L277.97,201.46 L280.54,200.97 L283.11,200.49 L285.68,200 L288.25,199.52 L290.82,199.04 L293.38,198.56 L295.95,198.08 L298.52,197.61 L301.09,197.13 L303.66,196.66 L306.23,196.19 L308.8,195.72 L311.37,195.25 L313.94,194.79 L316.51,194.32 L319.08,193.86 L321.65,193.4 L324.22,192.94 L326.79,192.48 L329.36,192.03 L331.93,191.57 L334.5,191.12 L337.07,190.67 L339.64,190.22 L342.21,189.77 L344.77,189.32 L347.34,188.88 L349.91,188.44 L352.48,188 L355.05,187.56 L357.62,187.12 L360.19,186.68 L362.76,186.25 L365.33,185.82 L367.9,185.38" fill="none" stroke="#1c6faa" stroke-width="2.2" clip-path="url(#l1)" stroke-linecap="butt" stroke-linejoin="round"/>
<path d="M216.3,233.57 L218.22,232.17 L220.14,230.81 L222.06,229.49 L223.98,228.19 L225.89,226.94 L227.81,225.71 L229.73,224.51 L231.65,223.35 L233.57,222.22 L235.49,221.12 L237.41,220.05 L239.33,219 L241.25,217.99 L243.17,217 L245.08,216.04 L247,215.11 L248.92,214.2 L250.84,213.32 L252.76,212.46 L254.68,211.63 L256.6,210.82 L258.52,210.03 L260.44,209.27 L262.36,208.53 L264.27,207.8 L266.19,207.1 L268.11,206.42 L270.03,205.76 L271.95,205.12 L273.87,204.49 L275.79,203.89 L277.71,203.3 L279.63,202.72 L281.55,202.16 L283.46,201.62 L285.38,201.09 L287.3,200.58 L289.22,200.08 L291.14,199.59 L293.06,199.11 L294.98,198.65 L296.9,198.19 L298.82,197.75 L300.74,197.31 L302.65,196.89 L304.57,196.47 L306.49,196.06 L308.41,195.66 L310.33,195.27 L312.25,194.88 L314.17,194.49 L316.09,194.11 L318.01,193.74 L319.93,193.37 L321.84,193 L323.76,192.64 L325.68,192.27 L327.6,191.91 L329.52,191.55 L331.44,191.18 L333.36,190.82 L335.28,190.46 L337.2,190.09 L339.12,189.72 L341.03,189.35 L342.95,188.98 L344.87,188.6 L346.79,188.21 L348.71,187.83 L350.63,187.43 L352.55,187.03 L354.47,186.62 L356.39,186.2 L358.31,185.78 L360.22,185.34 L362.14,184.9 L364.06,184.44 L365.98,183.98 L367.9,183.5" fill="none" stroke="#1c6faa" stroke-width="2.2" stroke-dasharray="8.2,3.5" clip-path="url(#l1)" stroke-linecap="butt" stroke-linejoin="round"/>
<path d="M216.3,292.6 L218.87,291.79 L221.44,290.98 L224.01,290.18 L226.58,289.38 L229.15,288.59 L231.72,287.8 L234.29,287.02 L236.86,286.25 L239.43,285.48 L241.99,284.71 L244.56,283.95 L247.13,283.2 L249.7,282.45 L252.27,281.71 L254.84,280.97 L257.41,280.24 L259.98,279.51 L262.55,278.79 L265.12,278.07 L267.69,277.36 L270.26,276.66 L272.83,275.95 L275.4,275.26 L277.97,274.57 L280.54,273.89 L283.11,273.21 L285.68,272.53 L288.25,271.86 L290.82,271.2 L293.38,270.54 L295.95,269.89 L298.52,269.24 L301.09,268.6 L303.66,267.97 L306.23,267.34 L308.8,266.71 L311.37,266.09 L313.94,265.48 L316.51,264.87 L319.08,264.26 L321.65,263.66 L324.22,263.07 L326.79,262.48 L329.36,261.9 L331.93,261.32 L334.5,260.75 L337.07,260.18 L339.64,259.62 L342.21,259.07 L344.77,258.51 L347.34,257.97 L349.91,257.43 L352.48,256.9 L355.05,256.37 L357.62,255.84 L360.19,255.32 L362.76,254.81 L365.33,254.3 L367.9,253.8" fill="none" stroke="#1c6faa" stroke-width="2.2" stroke-dasharray="8.2,3.5" clip-path="url(#l1)" stroke-linecap="butt" stroke-linejoin="round"/>
<path d="M216.3,359.49 L218.87,359.05 L221.44,358.64 L224.01,358.24 L226.58,357.85 L229.15,357.48 L231.72,357.13 L234.29,356.79 L236.86,356.47 L239.43,356.16 L241.99,355.87 L244.56,355.59 L247.13,355.33 L249.7,355.09 L252.27,354.86 L254.84,354.64 L257.41,354.45 L259.98,354.26 L262.55,354.1 L265.12,353.95 L267.69,353.81 L270.26,353.69 L272.83,353.59 L275.4,353.5 L277.97,353.43 L280.54,353.37 L283.11,353.33 L285.68,353.3 L288.25,353.29 L290.82,353.3 L293.38,353.32 L295.95,353.35 L298.52,353.41 L301.09,353.47 L303.66,353.56 L306.23,353.66 L308.8,353.77 L311.37,353.9 L313.94,354.05 L316.51,354.21 L319.08,354.38 L321.65,354.58 L324.22,354.79 L326.79,355.01 L329.36,355.25 L331.93,355.5 L334.5,355.78 L337.07,356.06 L339.64,356.36 L342.21,356.68 L344.77,357.02 L347.34,357.36 L349.91,357.73 L352.48,358.11 L355.05,358.51 L357.62,358.92 L360.19,359.34 L362.76,359.79 L365.33,360.24 L367.9,360.72" fill="none" stroke="#1c6faa" stroke-width="2.2" clip-path="url(#l1)" stroke-linecap="butt" stroke-linejoin="round"/>
<path d="M368,208.75 L370.57,207.85 L373.14,206.96 L375.71,206.06 L378.28,205.16 L380.85,204.25 L383.42,203.35 L385.99,202.44 L388.56,201.52 L391.13,200.6 L393.69,199.68 L396.26,198.76 L398.83,197.83 L401.4,196.9 L403.97,195.97 L406.54,195.03 L409.11,194.1 L411.68,193.15 L414.25,192.21 L416.82,191.26 L419.39,190.31 L421.96,189.35 L424.53,188.39 L427.1,187.43 L429.67,186.47 L432.24,185.5 L434.81,184.53 L437.38,183.56 L439.95,182.58 L442.52,181.6 L445.08,180.62 L447.65,179.63 L450.22,178.64 L452.79,177.65 L455.36,176.66 L457.93,175.66 L460.5,174.66 L463.07,173.65 L465.64,172.64 L468.21,171.63 L470.78,170.62 L473.35,169.6 L475.92,168.58 L478.49,167.55 L481.06,166.53 L483.63,165.5 L486.2,164.47 L488.77,163.43 L491.34,162.39 L493.91,161.35 L496.47,160.3 L499.04,159.25 L501.61,158.2 L504.18,157.15 L506.75,156.09 L509.32,155.03 L511.89,153.96 L514.46,152.89 L517.03,151.82 L519.6,150.75" fill="none" stroke="#000" stroke-width="2.2" clip-path="url(#l2)" stroke-linecap="butt" stroke-linejoin="round"/>
<path d="M368,227.04 L370.57,225.59 L373.14,224.16 L375.71,222.75 L378.28,221.36 L380.85,219.98 L383.42,218.62 L385.99,217.28 L388.56,215.95 L391.13,214.64 L393.69,213.35 L396.26,212.07 L398.83,210.81 L401.4,209.57 L403.97,208.35 L406.54,207.14 L409.11,205.94 L411.68,204.76 L414.25,203.6 L416.82,202.46 L419.39,201.33 L421.96,200.21 L424.53,199.12 L427.1,198.03 L429.67,196.97 L432.24,195.91 L434.81,194.88 L437.38,193.86 L439.95,192.85 L442.52,191.86 L445.08,190.88 L447.65,189.92 L450.22,188.98 L452.79,188.04 L455.36,187.13 L457.93,186.22 L460.5,185.33 L463.07,184.46 L465.64,183.6 L468.21,182.75 L470.78,181.92 L473.35,181.1 L475.92,180.3 L478.49,179.51 L481.06,178.73 L483.63,177.97 L486.2,177.21 L488.77,176.48 L491.34,175.75 L493.91,175.04 L496.47,174.34 L499.04,173.66 L501.61,172.99 L504.18,172.33 L506.75,171.68 L509.32,171.05 L511.89,170.43 L514.46,169.82 L517.03,169.22 L519.6,168.63" fill="none" stroke="#000" stroke-width="2.2" clip-path="url(#l2)" stroke-linecap="butt" stroke-linejoin="round"/>
<path d="M368,208.68 L370.57,208.52 L373.14,208.35 L375.71,208.18 L378.28,208 L380.85,207.81 L383.42,207.62 L385.99,207.43 L388.56,207.23 L391.13,207.02 L393.69,206.81 L396.26,206.59 L398.83,206.37 L401.4,206.14 L403.97,205.9 L406.54,205.66 L409.11,205.42 L411.68,205.17 L414.25,204.91 L416.82,204.65 L419.39,204.38 L421.96,204.11 L424.53,203.83 L427.1,203.55 L429.67,203.26 L432.24,202.97 L434.81,202.67 L437.38,202.36 L439.95,202.05 L442.52,201.74 L445.08,201.41 L447.65,201.09 L450.22,200.76 L452.79,200.42 L455.36,200.07 L457.93,199.72 L460.5,199.37 L463.07,199.01 L465.64,198.65 L468.21,198.27 L470.78,197.9 L473.35,197.52 L475.92,197.13 L478.49,196.74 L481.06,196.34 L483.63,195.94 L486.2,195.53 L488.77,195.11 L491.34,194.69 L493.91,194.27 L496.47,193.84 L499.04,193.4 L501.61,192.96 L504.18,192.51 L506.75,192.06 L509.32,191.6 L511.89,191.14 L514.46,190.67 L517.03,190.19 L519.6,189.71" fill="none" stroke="#000" stroke-width="2.2" clip-path="url(#l2)" stroke-linecap="butt" stroke-linejoin="round"/>
<path d="M368,295.7 L370.57,294.85 L373.14,294 L375.71,293.17 L378.28,292.34 L380.85,291.52 L383.42,290.7 L385.99,289.9 L388.56,289.1 L391.13,288.31 L393.69,287.52 L396.26,286.75 L398.83,285.98 L401.4,285.22 L403.97,284.47 L406.54,283.72 L409.11,282.98 L411.68,282.26 L414.25,281.53 L416.82,280.82 L419.39,280.11 L421.96,279.41 L424.53,278.72 L427.1,278.04 L429.67,277.36 L432.24,276.69 L434.81,276.03 L437.38,275.38 L439.95,274.73 L442.52,274.09 L445.08,273.46 L447.65,272.84 L450.22,272.22 L452.79,271.62 L455.36,271.02 L457.93,270.42 L460.5,269.84 L463.07,269.26 L465.64,268.69 L468.21,268.13 L470.78,267.58 L473.35,267.03 L475.92,266.49 L478.49,265.96 L481.06,265.44 L483.63,264.92 L486.2,264.41 L488.77,263.91 L491.34,263.42 L493.91,262.93 L496.47,262.46 L499.04,261.99 L501.61,261.52 L504.18,261.07 L506.75,260.62 L509.32,260.18 L511.89,259.75 L514.46,259.33 L517.03,258.91 L519.6,258.5" fill="none" stroke="#000" stroke-width="2.2" clip-path="url(#l2)" stroke-linecap="butt" stroke-linejoin="round"/>
<path d="M368,359.67 L370.57,359.39 L373.14,359.12 L375.71,358.84 L378.28,358.57 L380.85,358.29 L383.42,358.02 L385.99,357.75 L388.56,357.48 L391.13,357.21 L393.69,356.94 L396.26,356.68 L398.83,356.41 L401.4,356.14 L403.97,355.88 L406.54,355.62 L409.11,355.36 L411.68,355.09 L414.25,354.84 L416.82,354.58 L419.39,354.32 L421.96,354.06 L424.53,353.81 L427.1,353.55 L429.67,353.3 L432.24,353.05 L434.81,352.8 L437.38,352.55 L439.95,352.3 L442.52,352.05 L445.08,351.8 L447.65,351.56 L450.22,351.31 L452.79,351.07 L455.36,350.82 L457.93,350.58 L460.5,350.34 L463.07,350.1 L465.64,349.86 L468.21,349.63 L470.78,349.39 L473.35,349.15 L475.92,348.92 L478.49,348.69 L481.06,348.45 L483.63,348.22 L486.2,347.99 L488.77,347.76 L491.34,347.54 L493.91,347.31 L496.47,347.08 L499.04,346.86 L501.61,346.63 L504.18,346.41 L506.75,346.19 L509.32,345.97 L511.89,345.75 L514.46,345.53 L517.03,345.31 L519.6,345.1" fill="none" stroke="#000" stroke-width="2.2" clip-path="url(#l2)" stroke-linecap="butt" stroke-linejoin="round"/>
<path d="M368,391.6 L369.54,391.12 L371.07,390.66 L372.61,390.19 L374.15,389.74 L375.69,389.29 L377.22,388.85 L378.76,388.42 L380.3,388 L381.84,387.58 L383.37,387.17 L384.91,386.77 L386.45,386.38 L387.98,385.99 L389.52,385.61 L391.06,385.24 L392.6,384.88 L394.13,384.53 L395.67,384.18 L397.21,383.84 L398.75,383.51 L400.28,383.18 L401.82,382.86 L403.36,382.55 L404.89,382.25 L406.43,381.96 L407.97,381.67 L409.51,381.39 L411.04,381.12 L412.58,380.86 L414.12,380.6 L415.66,380.35 L417.19,380.11 L418.73,379.88 L420.27,379.65 L421.81,379.43 L423.34,379.22 L424.88,379.02 L426.42,378.82 L427.95,378.64 L429.49,378.46 L431.03,378.28 L432.57,378.12 L434.1,377.96 L435.64,377.81 L437.18,377.67 L438.72,377.53 L440.25,377.41 L441.79,377.29 L443.33,377.18 L444.86,377.07 L446.4,376.98 L447.94,376.89 L449.48,376.81 L451.01,376.73 L452.55,376.67 L454.09,376.61 L455.63,376.56 L457.16,376.51 L458.7,376.48" fill="none" stroke="#000" stroke-width="2.2" clip-path="url(#l2)" stroke-linecap="butt" stroke-linejoin="round"/>
<path d="M368,210.74 L370.57,209.81 L373.14,208.87 L375.71,207.92 L378.28,206.97 L380.85,206.01 L383.42,205.04 L385.99,204.07 L388.56,203.09 L391.13,202.1 L393.69,201.11 L396.26,200.11 L398.83,199.11 L401.4,198.1 L403.97,197.08 L406.54,196.05 L409.11,195.02 L411.68,193.99 L414.25,192.94 L416.82,191.89 L419.39,190.84 L421.96,189.77 L424.53,188.7 L427.1,187.63 L429.67,186.55 L432.24,185.46 L434.81,184.36 L437.38,183.26 L439.95,182.15 L442.52,181.04 L445.08,179.92 L447.65,178.79 L450.22,177.66 L452.79,176.52 L455.36,175.37 L457.93,174.22 L460.5,173.06 L463.07,171.89 L465.64,170.72 L468.21,169.54 L470.78,168.36 L473.35,167.17 L475.92,165.97 L478.49,164.76 L481.06,163.55 L483.63,162.34 L486.2,161.11 L488.77,159.88 L491.34,158.65 L493.91,157.4 L496.47,156.15 L499.04,154.9 L501.61,153.64 L504.18,152.37 L506.75,151.09 L509.32,149.81 L511.89,148.52 L514.46,147.23 L517.03,145.93 L519.6,144.62" fill="none" stroke="#269526" stroke-width="2.2" clip-path="url(#l2)" stroke-linecap="butt" stroke-linejoin="round"/>
<path d="M368,213.89 L370.57,213.34 L373.14,212.79 L375.71,212.25 L378.28,211.7 L380.85,211.16 L383.42,210.62 L385.99,210.07 L388.56,209.53 L391.13,209 L393.69,208.46 L396.26,207.92 L398.83,207.39 L401.4,206.86 L403.97,206.33 L406.54,205.8 L409.11,205.27 L411.68,204.74 L414.25,204.22 L416.82,203.69 L419.39,203.17 L421.96,202.65 L424.53,202.13 L427.1,201.62 L429.67,201.1 L432.24,200.59 L434.81,200.07 L437.38,199.56 L439.95,199.05 L442.52,198.54 L445.08,198.04 L447.65,197.53 L450.22,197.03 L452.79,196.52 L455.36,196.02 L457.93,195.52 L460.5,195.02 L463.07,194.53 L465.64,194.03 L468.21,193.54 L470.78,193.05 L473.35,192.56 L475.92,192.07 L478.49,191.58 L481.06,191.09 L483.63,190.61 L486.2,190.12 L488.77,189.64 L491.34,189.16 L493.91,188.68 L496.47,188.2 L499.04,187.73 L501.61,187.25 L504.18,186.78 L506.75,186.31 L509.32,185.84 L511.89,185.37 L514.46,184.9 L517.03,184.44 L519.6,183.97" fill="none" stroke="#269526" stroke-width="2.2" clip-path="url(#l2)" stroke-linecap="butt" stroke-linejoin="round"/>
<path d="M368,233.16 L369.92,231.49 L371.84,229.87 L373.76,228.3 L375.68,226.78 L377.59,225.32 L379.51,223.9 L381.43,222.52 L383.35,221.2 L385.27,219.92 L387.19,218.68 L389.11,217.49 L391.03,216.34 L392.95,215.23 L394.87,214.17 L396.78,213.14 L398.7,212.15 L400.62,211.2 L402.54,210.28 L404.46,209.4 L406.38,208.56 L408.3,207.75 L410.22,206.97 L412.14,206.22 L414.06,205.51 L415.97,204.82 L417.89,204.16 L419.81,203.54 L421.73,202.93 L423.65,202.36 L425.57,201.8 L427.49,201.28 L429.41,200.77 L431.33,200.29 L433.25,199.82 L435.16,199.38 L437.08,198.96 L439,198.55 L440.92,198.16 L442.84,197.79 L444.76,197.43 L446.68,197.09 L448.6,196.76 L450.52,196.44 L452.44,196.13 L454.35,195.83 L456.27,195.54 L458.19,195.26 L460.11,194.98 L462.03,194.72 L463.95,194.45 L465.87,194.2 L467.79,193.94 L469.71,193.69 L471.63,193.43 L473.54,193.18 L475.46,192.93 L477.38,192.67 L479.3,192.42 L481.22,192.15 L483.14,191.89 L485.06,191.62 L486.98,191.34 L488.9,191.05 L490.82,190.76 L492.73,190.45 L494.65,190.14 L496.57,189.81 L498.49,189.47 L500.41,189.11 L502.33,188.75 L504.25,188.36 L506.17,187.96 L508.09,187.54 L510.01,187.11 L511.92,186.65 L513.84,186.17 L515.76,185.68 L517.68,185.16 L519.6,184.61" fill="none" stroke="#269526" stroke-width="2.2" clip-path="url(#l2)" stroke-linecap="butt" stroke-linejoin="round"/>
<path d="M368,292.6 L370.57,291.81 L373.14,291.02 L375.71,290.23 L378.28,289.45 L380.85,288.67 L383.42,287.9 L385.99,287.13 L388.56,286.37 L391.13,285.61 L393.69,284.86 L396.26,284.11 L398.83,283.36 L401.4,282.62 L403.97,281.89 L406.54,281.16 L409.11,280.43 L411.68,279.71 L414.25,278.99 L416.82,278.28 L419.39,277.57 L421.96,276.87 L424.53,276.17 L427.1,275.47 L429.67,274.78 L432.24,274.1 L434.81,273.42 L437.38,272.74 L439.95,272.07 L442.52,271.4 L445.08,270.74 L447.65,270.08 L450.22,269.43 L452.79,268.78 L455.36,268.13 L457.93,267.49 L460.5,266.86 L463.07,266.23 L465.64,265.6 L468.21,264.98 L470.78,264.36 L473.35,263.75 L475.92,263.14 L478.49,262.54 L481.06,261.94 L483.63,261.35 L486.2,260.76 L488.77,260.17 L491.34,259.59 L493.91,259.01 L496.47,258.44 L499.04,257.87 L501.61,257.31 L504.18,256.75 L506.75,256.2 L509.32,255.65 L511.89,255.11 L514.46,254.57 L517.03,254.03 L519.6,253.5" fill="none" stroke="#269526" stroke-width="2.2" clip-path="url(#l2)" stroke-linecap="butt" stroke-linejoin="round"/>
<path d="M368,363.32 L370.57,362.92 L373.14,362.54 L375.71,362.17 L378.28,361.81 L380.85,361.46 L383.42,361.12 L385.99,360.79 L388.56,360.47 L391.13,360.17 L393.69,359.87 L396.26,359.59 L398.83,359.32 L401.4,359.06 L403.97,358.81 L406.54,358.57 L409.11,358.35 L411.68,358.13 L414.25,357.93 L416.82,357.74 L419.39,357.55 L421.96,357.38 L424.53,357.23 L427.1,357.08 L429.67,356.94 L432.24,356.82 L434.81,356.7 L437.38,356.6 L439.95,356.51 L442.52,356.43 L445.08,356.36 L447.65,356.3 L450.22,356.26 L452.79,356.22 L455.36,356.2 L457.93,356.19 L460.5,356.18 L463.07,356.19 L465.64,356.22 L468.21,356.25 L470.78,356.29 L473.35,356.35 L475.92,356.41 L478.49,356.49 L481.06,356.58 L483.63,356.68 L486.2,356.79 L488.77,356.91 L491.34,357.05 L493.91,357.19 L496.47,357.35 L499.04,357.52 L501.61,357.69 L504.18,357.89 L506.75,358.09 L509.32,358.3 L511.89,358.52 L514.46,358.76 L517.03,359 L519.6,359.26" fill="none" stroke="#269526" stroke-width="2.2" clip-path="url(#l2)" stroke-linecap="butt" stroke-linejoin="round"/>
<line x1="106.3" y1="302.3" x2="134.9" y2="302.3" stroke="#cc2532" stroke-width="2.2"/>
<line x1="106.3" y1="322.8" x2="134.9" y2="322.8" stroke="#cc2532" stroke-width="2.2" stroke-dasharray="8.2,3.5"/>
<text x="144.6" y="307.3" font-size="13.5" textLength="60.5" lengthAdjust="spacingAndGlyphs" stroke="#000" stroke-width="0.22">C2/m(A<tspan font-size="9.5" dy="2.6" font-style="italic">g</tspan><tspan dy="-2.6">)</tspan></text>
<text x="144.6" y="328" font-size="13.5" textLength="60.5" lengthAdjust="spacingAndGlyphs" stroke="#000" stroke-width="0.22">C2/m(B<tspan font-size="9.5" dy="2.6" font-style="italic">g</tspan><tspan dy="-2.6">)</tspan></text>
<line x1="261.8" y1="302.3" x2="289.9" y2="302.3" stroke="#1c6faa" stroke-width="2.2"/>
<line x1="261.8" y1="322.8" x2="289.9" y2="322.8" stroke="#1c6faa" stroke-width="2.2" stroke-dasharray="8.2,3.5"/>
<text x="300.2" y="307.3" font-size="13.5" textLength="54.6" lengthAdjust="spacingAndGlyphs" stroke="#000" stroke-width="0.22">C2/c(A<tspan font-size="9.5" dy="2.6" font-style="italic">g</tspan><tspan dy="-2.6">)</tspan></text>
<text x="300.2" y="328" font-size="13.5" textLength="54.6" lengthAdjust="spacingAndGlyphs" stroke="#000" stroke-width="0.22">C2/c(B<tspan font-size="9.5" dy="2.6" font-style="italic">g</tspan><tspan dy="-2.6">)</tspan></text>
<line x1="432" y1="302.5" x2="460" y2="302.5" stroke="#269526" stroke-width="2.2"/>
<line x1="400" y1="323.8" x2="428" y2="323.8" stroke="#000" stroke-width="2.2"/>
<text x="466.8" y="307.3" font-size="13.5" textLength="41" lengthAdjust="spacingAndGlyphs" stroke="#000" stroke-width="0.22">Ci(A<tspan font-size="9.5" dy="2.6">g</tspan><tspan dy="-2.6">)</tspan></text>
<text x="438.6" y="328" font-size="13.5" fill="#000" text-anchor="start" textLength="76" lengthAdjust="spacingAndGlyphs" stroke="#000" stroke-width="0.22">Experiment</text>
<rect x="64.6" y="4.6" width="151.7" height="102.9" fill="none" stroke="#000" stroke-width="1.7"/>
<rect x="64.6" y="107.5" width="151.7" height="311" fill="none" stroke="#000" stroke-width="1.7"/>
<rect x="216.3" y="4.6" width="151.7" height="102.9" fill="none" stroke="#000" stroke-width="1.7"/>
<rect x="216.3" y="107.5" width="151.7" height="311" fill="none" stroke="#000" stroke-width="1.7"/>
<rect x="368" y="4.6" width="151.2" height="102.9" fill="none" stroke="#000" stroke-width="1.7"/>
<rect x="368" y="107.5" width="151.2" height="311" fill="none" stroke="#000" stroke-width="1.7"/>
<line x1="57.1" y1="4.6" x2="64.6" y2="4.6" stroke="#000" stroke-width="1.7"/>
<text x="48.6" y="9.4" font-size="13.5" fill="#000" text-anchor="end" textLength="32" lengthAdjust="spacingAndGlyphs" stroke="#000" stroke-width="0.22">2000</text>
<line x1="57.1" y1="45.9" x2="64.6" y2="45.9" stroke="#000" stroke-width="1.7"/>
<text x="48.6" y="50.7" font-size="13.5" fill="#000" text-anchor="end" textLength="32" lengthAdjust="spacingAndGlyphs" stroke="#000" stroke-width="0.22">1800</text>
<line x1="57.1" y1="86.9" x2="64.6" y2="86.9" stroke="#000" stroke-width="1.7"/>
<text x="48.6" y="91.7" font-size="13.5" fill="#000" text-anchor="end" textLength="32" lengthAdjust="spacingAndGlyphs" stroke="#000" stroke-width="0.22">1600</text>
<line x1="57.1" y1="107.5" x2="64.6" y2="107.5" stroke="#000" stroke-width="1.7"/>
<text x="48.6" y="112.3" font-size="13.5" fill="#000" text-anchor="end" textLength="24" lengthAdjust="spacingAndGlyphs" stroke="#000" stroke-width="0.22">900</text>
<line x1="57.1" y1="146.38" x2="64.6" y2="146.38" stroke="#000" stroke-width="1.7"/>
<text x="48.6" y="151.18" font-size="13.5" fill="#000" text-anchor="end" textLength="24" lengthAdjust="spacingAndGlyphs" stroke="#000" stroke-width="0.22">800</text>
<line x1="57.1" y1="185.25" x2="64.6" y2="185.25" stroke="#000" stroke-width="1.7"/>
<text x="48.6" y="190.05" font-size="13.5" fill="#000" text-anchor="end" textLength="24" lengthAdjust="spacingAndGlyphs" stroke="#000" stroke-width="0.22">700</text>
<line x1="57.1" y1="224.12" x2="64.6" y2="224.12" stroke="#000" stroke-width="1.7"/>
<text x="48.6" y="228.93" font-size="13.5" fill="#000" text-anchor="end" textLength="24" lengthAdjust="spacingAndGlyphs" stroke="#000" stroke-width="0.22">600</text>
<line x1="57.1" y1="263" x2="64.6" y2="263" stroke="#000" stroke-width="1.7"/>
<text x="48.6" y="267.8" font-size="13.5" fill="#000" text-anchor="end" textLength="24" lengthAdjust="spacingAndGlyphs" stroke="#000" stroke-width="0.22">500</text>
<line x1="57.1" y1="301.88" x2="64.6" y2="301.88" stroke="#000" stroke-width="1.7"/>
<text x="48.6" y="306.68" font-size="13.5" fill="#000" text-anchor="end" textLength="24" lengthAdjust="spacingAndGlyphs" stroke="#000" stroke-width="0.22">400</text>
<line x1="57.1" y1="340.75" x2="64.6" y2="340.75" stroke="#000" stroke-width="1.7"/>
<text x="48.6" y="345.55" font-size="13.5" fill="#000" text-anchor="end" textLength="24" lengthAdjust="spacingAndGlyphs" stroke="#000" stroke-width="0.22">300</text>
<line x1="57.1" y1="379.62" x2="64.6" y2="379.62" stroke="#000" stroke-width="1.7"/>
<text x="48.6" y="384.43" font-size="13.5" fill="#000" text-anchor="end" textLength="24" lengthAdjust="spacingAndGlyphs" stroke="#000" stroke-width="0.22">200</text>
<line x1="57.1" y1="418.5" x2="64.6" y2="418.5" stroke="#000" stroke-width="1.7"/>
<text x="48.6" y="423.3" font-size="13.5" fill="#000" text-anchor="end" textLength="24" lengthAdjust="spacingAndGlyphs" stroke="#000" stroke-width="0.22">100</text>
<line x1="64.6" y1="418.5" x2="64.6" y2="426.2" stroke="#000" stroke-width="1.7"/>
<text x="64.6" y="444.4" font-size="13.5" fill="#000" text-anchor="middle" textLength="24" lengthAdjust="spacingAndGlyphs" stroke="#000" stroke-width="0.22">100</text>
<line x1="125.28" y1="418.5" x2="125.28" y2="426.2" stroke="#000" stroke-width="1.7"/>
<text x="125.28" y="444.4" font-size="13.5" fill="#000" text-anchor="middle" textLength="24" lengthAdjust="spacingAndGlyphs" stroke="#000" stroke-width="0.22">150</text>
<line x1="185.96" y1="418.5" x2="185.96" y2="426.2" stroke="#000" stroke-width="1.7"/>
<text x="185.96" y="444.4" font-size="13.5" fill="#000" text-anchor="middle" textLength="24" lengthAdjust="spacingAndGlyphs" stroke="#000" stroke-width="0.22">200</text>
<text x="140.2" y="465.9" font-size="13.5" fill="#000" text-anchor="middle" textLength="95.2" lengthAdjust="spacingAndGlyphs" stroke="#000" stroke-width="0.22">Pressure (GPa)</text>
<line x1="216.3" y1="418.5" x2="216.3" y2="426.2" stroke="#000" stroke-width="1.7"/>
<text x="216.3" y="444.4" font-size="13.5" fill="#000" text-anchor="middle" textLength="24" lengthAdjust="spacingAndGlyphs" stroke="#000" stroke-width="0.22">100</text>
<line x1="276.98" y1="418.5" x2="276.98" y2="426.2" stroke="#000" stroke-width="1.7"/>
<text x="276.98" y="444.4" font-size="13.5" fill="#000" text-anchor="middle" textLength="24" lengthAdjust="spacingAndGlyphs" stroke="#000" stroke-width="0.22">150</text>
<line x1="337.66" y1="418.5" x2="337.66" y2="426.2" stroke="#000" stroke-width="1.7"/>
<text x="337.66" y="444.4" font-size="13.5" fill="#000" text-anchor="middle" textLength="24" lengthAdjust="spacingAndGlyphs" stroke="#000" stroke-width="0.22">200</text>
<text x="291.9" y="465.9" font-size="13.5" fill="#000" text-anchor="middle" textLength="95.2" lengthAdjust="spacingAndGlyphs" stroke="#000" stroke-width="0.22">Pressure (GPa)</text>
<line x1="368" y1="418.5" x2="368" y2="426.2" stroke="#000" stroke-width="1.7"/>
<text x="368" y="444.4" font-size="13.5" fill="#000" text-anchor="middle" textLength="24" lengthAdjust="spacingAndGlyphs" stroke="#000" stroke-width="0.22">100</text>
<line x1="428.68" y1="418.5" x2="428.68" y2="426.2" stroke="#000" stroke-width="1.7"/>
<text x="428.68" y="444.4" font-size="13.5" fill="#000" text-anchor="middle" textLength="24" lengthAdjust="spacingAndGlyphs" stroke="#000" stroke-width="0.22">150</text>
<line x1="489.36" y1="418.5" x2="489.36" y2="426.2" stroke="#000" stroke-width="1.7"/>
<text x="489.36" y="444.4" font-size="13.5" fill="#000" text-anchor="middle" textLength="24" lengthAdjust="spacingAndGlyphs" stroke="#000" stroke-width="0.22">200</text>
<text x="443.6" y="465.9" font-size="13.5" fill="#000" text-anchor="middle" textLength="95.2" lengthAdjust="spacingAndGlyphs" stroke="#000" stroke-width="0.22">Pressure (GPa)</text>
<text x="66.6" y="18.9" font-size="13.5" fill="#000" text-anchor="start" textLength="19.6" lengthAdjust="spacingAndGlyphs" stroke="#000" stroke-width="0.22">(a)</text>
<text x="220" y="18.9" font-size="13.5" fill="#000" text-anchor="start" textLength="19.6" lengthAdjust="spacingAndGlyphs" stroke="#000" stroke-width="0.22">(b)</text>
<text x="372.8" y="18.9" font-size="13.5" fill="#000" text-anchor="start" textLength="18.4" lengthAdjust="spacingAndGlyphs" stroke="#000" stroke-width="0.22">(c)</text>
<text x="0" y="0" font-size="13.5" transform="translate(12.0,299.3) rotate(-90)" textLength="145.0" lengthAdjust="spacingAndGlyphs" stroke="#000" stroke-width="0.22">Frequency (rel. cm<tspan font-size="9.5" dy="-5.5">−1</tspan><tspan dy="5.5">)</tspan></text>
<path d="M29,621.99 L29.9,622.69 L30.8,621.47 L31.7,620.16 L32.6,621.16 L33.5,620.02 L34.4,622.38 L35.3,625.24 L36.2,621.25 L37.1,621.01 L38,623.5 L38.9,623.25 L39.8,622.74 L40.7,620.5 L41.6,622.53 L42.5,624.17 L43.4,619.72 L44.3,621.72 L45.2,618.58 L46.1,619.97 L47,618.8 L47.9,622.38 L48.8,620.15 L49.7,623.58 L50.6,623.37 L51.5,622.66 L52.4,617.58 L53.3,621.97 L54.2,623.09 L55.1,623.49 L56,619.92 L56.9,622.28 L57.8,621.22 L58.7,621.64 L59.6,625.79 L60.5,621.73 L61.4,623.47 L62.3,625.54 L63.2,622.35 L64.1,623.43 L65,623.97 L65.9,623.91 L66.8,621.12 L67.7,624.03 L68.6,626.89 L69.5,620.54 L70.4,625.88 L71.3,624.3 L72.2,622.67 L73.1,628.52 L74,625.84 L74.9,621.57 L75.8,624.42 L76.7,625.57 L77.6,623.93 L78.5,625.89 L79.4,624.28 L80.3,625.94 L81.2,627.68 L82.1,623.07 L83,625.05 L83.9,623.62 L84.8,624.96 L85.7,622.11 L86.6,623.49 L87.5,624.37 L88.4,626.81 L89.3,627.38 L90.2,621.98 L91.1,623.16 L92,626.33 L92.9,620.5 L93.8,623.73 L94.7,623.73 L95.6,623.56 L96.5,616.16 L97.4,610.68 L98.3,615.38 L99.2,621.43 L100.1,627.87 L101,624.19 L101.9,624.62 L102.8,626.15 L103.7,625.16 L104.6,625.03 L105.5,623.05 L106.4,625.51 L107.3,624.58 L108.2,628.15 L109.1,627.04 L110,625.57 L110.9,627.12 L111.8,624.92 L112.7,628 L113.6,625.69 L114.5,627.01 L115.4,622.9 L116.3,626.52 L117.2,622.07 L118.1,621.32 L119,625.15 L119.9,623.85 L120.8,626.21 L121.7,630.81 L122.6,624.06 L123.5,624.53 L124.4,626.37 L125.3,627.02 L126.2,625.56 L127.1,625.52 L128,627.53 L128.9,627.15 L129.8,623.74 L130.7,625.86 L131.6,626.13 L132.5,623.75 L133.4,626.65 L134.3,624.21 L135.2,628.25 L136.1,626.55 L137,626.34 L137.9,624.86 L138.8,625.91 L139.7,621.79 L140.6,623.71 L141.5,627.01 L142.4,621.54 L143.3,628.1 L144.2,622.41 L145.1,627.93 L146,624.41 L146.9,628 L147.8,626.58 L148.7,622.92 L149.6,629.06 L150.5,629.48 L151.4,626.16 L152.3,625.69 L153.2,625.93 L154.1,624.12 L155,628.67 L155.9,625.04 L156.8,626.1 L157.7,624.44 L158.6,624.77 L159.5,623.29 L160.4,628.81 L161.3,625.64 L162.2,628.01 L163.1,625.79 L164,624.06 L164.9,624.61 L165.8,623.56 L166.7,623.44 L167.6,618.97 L168.5,610.97 L169.4,594.36 L170.3,577.71 L171.2,569.79 L172.1,565.58 L173,579.13 L173.9,599.99 L174.8,615.92 L175.7,617.17 L176.6,623.18 L177.5,623.47 L178.4,621.47 L179.3,627.21 L180.2,625.69 L181.1,626.01 L182,624.28 L182.9,626.99 L183.8,624.84 L184.7,625.74 L185.6,623.62 L186.5,623.38 L187.4,628.97 L188.3,624.86 L189.2,626.45 L190.1,625.23 L191,622.92 L191.9,619.94 L192.8,618.74 L193.7,614.47 L194.6,616.23 L195.5,620.17 L196.4,625.77 L197.3,626.29 L198.2,626.19 L199.1,624.2 L200,622.34 L200.9,627.34 L201.8,627.18 L202.7,624.48 L203.6,625.6 L204.5,625.51 L205.4,624.39 L206.3,621.72 L207.2,611.96 L208.1,602.2 L209,571.64 L209.9,542.51 L210.8,507.36 L211.7,488.81 L212.6,498.93 L213.5,527.87 L214.4,557.67 L215.3,585.61 L216.2,609.6 L217.1,615.09 L218,621.5 L218.9,625.12 L219.8,620.42 L220.7,619.76 L221.6,624.87 L222.5,622.48 L223.4,616.01 L224.3,611.23 L225.2,613.24 L226.1,618.56 L227,624.47 L227.9,623.35 L228.8,622.01 L229.7,626.79 L230.6,625.53 L231.5,626.51 L232.4,623.35 L233.3,623.91 L234.2,622.81 L235.1,622.24 L236,622.62 L236.9,616.18 L237.8,611.31 L238.7,601.73 L239.6,597.31 L240.5,587.93 L241.4,598.07 L242.3,602.5 L243.2,603.22 L244.1,588.01 L245,563.57 L245.9,533.63 L246.8,513.52 L247.7,525.91 L248.6,556.33 L249.5,588.72 L250.4,603.08 L251.3,604.87 L252.2,610.75 L253.1,610.11 L254,608.93 L254.9,615.3 L255.8,618.62 L256.7,614.58 L257.6,611.11 L258.5,611.79 L259.4,617.52 L260.3,617.02 L261.2,617.74 L262.1,616.36 L263,614.04 L263.9,612.35 L264.8,596.97 L265.7,578.63 L266.6,591.33 L267.5,617.31 L268.4,622.58 L269.3,627.92 L270.2,623.11 L271.1,625.82 L272,626.25 L272.9,623.45 L273.8,630.23 L274.7,629.71 L275.6,625.53 L276.5,628.28 L277.4,627.45 L278.3,620.89 L279.2,627.22 L280.1,626.55 L281,626.89 L281.9,624.35 L282.8,626.14 L283.7,626.35 L284.6,629.37 L285.5,627.5 L286.4,626.76 L287.3,630.14 L288.2,625.56 L289.1,625.93 L290,622.79 L290.9,630.18 L291.8,628.78 L292.7,628.61 L293.6,627.99 L294.5,626.7 L295.4,626.86 L296.3,625.76 L297.2,625.79 L298.1,626.28 L299,629.41 L299.9,627.22 L300.8,625.79 L301.7,624.55 L302.6,624.32 L303.5,629.12 L304.4,626.52 L305.3,625.22 L306.2,623.6 L307.1,620.56 L308,620.58 L308.9,619.64 L309.8,613.91 L310.7,612.81 L311.6,613.74 L312.5,617.11 L313.4,616.33 L314.3,621.59 L315.2,621.37 L316.1,624.92 L317,619.28 L317.9,618.81 L318.8,617.94 L319.7,614.15 L320.6,616.76 L321.5,622.01 L322.4,623.75 L323.3,622.5 L324.2,626 L325.1,629.52 L326,624.56 L326.9,624.7 L327.8,622.86 L328.7,625.85 L329.6,622.37 L330.5,622.63 L331.4,627.78 L332.3,622.77 L333.2,626.3 L334.1,622.97 L335,608.17 L335.9,597.73 L336.8,608.6 L337.7,617.24 L338.6,622.15 L339.5,621.72 L340.4,625.06 L341.3,628.35 L342.2,627.28 L343.1,623.14 L344,623.37 L344.9,624.16 L345.8,625.93 L346.7,624.85 L347.6,625.78 L348.5,625.97 L349.4,624.66 L350.3,625.24 L351.2,625.78 L352.1,625.14 L353,626.43 L353.9,629.44 L354.8,626.62 L355.7,625.44 L356.6,621.61 L357.5,626.16 L358.4,621.02 L359.3,622.2 L360.2,627.15 L361.1,626.69 L362,624.68 L362.9,621.11 L363.8,623.93 L364.7,623.11 L365.6,625.87 L366.5,629.3 L367.4,624.66 L368.3,622.32 L369.2,621.3 L370.1,623.57 L371,623.09 L371.9,620.68 L372.8,623.13 L373.7,619.91 L374.6,624.34 L375.5,623.61 L376.4,622.98 L377.3,618.8 L378.2,620.21 L379.1,618.08 L380,616.86 L380.9,616.31 L381.8,613.33 L382.7,611.68 L383.6,614.58 L384.5,609.62 L385.4,607.03 L386.3,604.94 L387.2,595.35 L388.1,594.84 L389,595.99 L389.9,597.47 L390.8,598.45 L391.7,605.23 L392.6,607.4 L393.5,607.88 L394.4,610.98 L395.3,612.42 L396.2,592.41 L397.1,556.68 L398,573.46 L398.9,604.68 L399.8,620.82 L400.7,619.85 L401.6,620.68 L402.5,619.15 L403.4,627.39 L404.3,621.53 L405.2,625.49 L406.1,620.62 L407,622.44 L407.9,618.43 L408.8,621.28 L409.7,624.29 L410.6,619.51 L411.5,624.83 L412.4,623.41 L413.3,620.57 L414.2,621.95 L415.1,622.24 L416,623.33 L416.9,622.45 L417.8,621.99 L418.7,623.33 L419.6,621.92 L420.5,621.53 L421.4,624.44 L422.3,626.66 L423.2,621.53 L424.1,625.08 L425,623.81 L425.9,623.26 L426.8,627.46 L427.7,624.6 L428.6,629.19 L429.5,624.32 L430.4,626.94 L431.3,625.5 L432.2,624.1 L433.1,626.48 L434,623.6 L434.9,623.04 L435.8,618.45 L436.7,612.82 L437.6,612.9 L438.5,613.71 L439.4,618.42 L440.3,617.76 L441.2,622.58 L442.1,620.78 L443,627.01 L443.9,623.65 L444.8,622.26 L445.7,626.19 L446.6,628.81 L447.5,623.07 L448.4,624.06 L449.3,624.84 L450.2,624.01 L451.1,627.35 L452,624.75 L452.9,624.95 L453.8,627.83 L454.7,624.88 L455.6,627.5 L456.5,624.41 L457.4,623.87 L458.3,622.49 L459.2,630.61 L460.1,625.78 L461,626.95 L461.9,626.26 L462.8,626.58 L463.7,626.2 L464.6,630.11 L465.5,623.35 L466.4,621.81 L467.3,622.4 L468.2,620.79 L469.1,624.09 L470,622.5 L470.9,616.33 L471.8,612.66 L472.7,611.85 L473.6,612.48 L474.5,600.17 L475.4,605.01 L476.3,599.8 L477.2,603.75 L478.1,599.24 L479,601.7 L479.9,599.97 L480.8,602.14 L481.7,608.34 L482.6,608.12 L483.5,606.51 L484.4,606.47 L485.3,604.85 L486.2,608.15 L487.1,608.25 L488,606.92 L488.9,605.58 L489.8,602.51 L490.7,605.1 L491.6,606.72 L492.5,612.24 L493.4,616.62 L494.3,615.34 L495.2,616.73 L496.1,620.47 L497,620.88 L497.9,621.63 L498.8,623.77 L499.7,621.94 L500.6,625.68 L501.5,623.96 L502.4,623.98 L503.3,621.01 L504.2,616.19 L505.1,611.67 L506,611.28 L506.9,610.55 L507.8,610.05 L508.7,605.27 L509.6,603.12 L510.5,613.56 L511.4,617.17 L512.3,621.94 L513.2,623.6 L514.1,619.94 L515,624.8 L515.9,624.98 L516.8,624.33 L517.7,623.76 L518.6,623.88" fill="none" stroke="#000" stroke-width="1.45" clip-path="url(#dd)" stroke-linecap="butt" stroke-linejoin="round"/>
<line x1="97.5" y1="630.8" x2="97.5" y2="643.8" stroke="#cc2532" stroke-width="1.4"/>
<line x1="212" y1="630.8" x2="212" y2="643.8" stroke="#cc2532" stroke-width="1.4"/>
<line x1="249" y1="630.8" x2="249" y2="643.8" stroke="#cc2532" stroke-width="1.4"/>
<line x1="250.6" y1="630.8" x2="250.6" y2="643.8" stroke="#cc2532" stroke-width="1.4"/>
<line x1="269.8" y1="630.8" x2="269.8" y2="643.8" stroke="#cc2532" stroke-width="1.4"/>
<line x1="272.4" y1="630.8" x2="272.4" y2="643.8" stroke="#cc2532" stroke-width="1.4"/>
<line x1="318.5" y1="630.8" x2="318.5" y2="643.8" stroke="#cc2532" stroke-width="1.4"/>
<line x1="346.5" y1="630.8" x2="346.5" y2="643.8" stroke="#cc2532" stroke-width="1.4"/>
<line x1="360.6" y1="630.8" x2="360.6" y2="643.8" stroke="#cc2532" stroke-width="1.4"/>
<line x1="363.5" y1="630.8" x2="363.5" y2="643.8" stroke="#cc2532" stroke-width="1.4"/>
<line x1="395" y1="630.8" x2="395" y2="643.8" stroke="#cc2532" stroke-width="1.4"/>
<line x1="398.7" y1="630.8" x2="398.7" y2="643.8" stroke="#cc2532" stroke-width="1.4"/>
<line x1="509.8" y1="630.8" x2="509.8" y2="643.8" stroke="#cc2532" stroke-width="1.4"/>
<line x1="511.3" y1="630.8" x2="511.3" y2="643.8" stroke="#cc2532" stroke-width="1.4"/>
<line x1="513.6" y1="630.8" x2="513.6" y2="643.8" stroke="#cc2532" stroke-width="1.4"/>
<line x1="97.5" y1="645.2" x2="97.5" y2="657.9" stroke="#1c6faa" stroke-width="1.4"/>
<line x1="212" y1="645.2" x2="212" y2="657.9" stroke="#1c6faa" stroke-width="1.4"/>
<line x1="249" y1="645.2" x2="249" y2="657.9" stroke="#1c6faa" stroke-width="1.4"/>
<line x1="250.6" y1="645.2" x2="250.6" y2="657.9" stroke="#1c6faa" stroke-width="1.4"/>
<line x1="268.8" y1="645.2" x2="268.8" y2="657.9" stroke="#1c6faa" stroke-width="1.4"/>
<line x1="272.2" y1="645.2" x2="272.2" y2="657.9" stroke="#1c6faa" stroke-width="1.4"/>
<line x1="318.5" y1="645.2" x2="318.5" y2="657.9" stroke="#1c6faa" stroke-width="1.4"/>
<line x1="336.2" y1="645.2" x2="336.2" y2="657.9" stroke="#1c6faa" stroke-width="1.4"/>
<line x1="346.5" y1="645.2" x2="346.5" y2="657.9" stroke="#1c6faa" stroke-width="1.4"/>
<line x1="361.9" y1="645.2" x2="361.9" y2="657.9" stroke="#1c6faa" stroke-width="1.4"/>
<line x1="393.1" y1="645.2" x2="393.1" y2="657.9" stroke="#1c6faa" stroke-width="1.4"/>
<line x1="397.3" y1="645.2" x2="397.3" y2="657.9" stroke="#1c6faa" stroke-width="1.4"/>
<line x1="398.3" y1="645.2" x2="398.3" y2="657.9" stroke="#1c6faa" stroke-width="1.4"/>
<line x1="424.4" y1="645.2" x2="424.4" y2="657.9" stroke="#1c6faa" stroke-width="1.4"/>
<line x1="510.2" y1="645.2" x2="510.2" y2="657.9" stroke="#1c6faa" stroke-width="1.4"/>
<line x1="511.6" y1="645.2" x2="511.6" y2="657.9" stroke="#1c6faa" stroke-width="1.4"/>
<line x1="515.6" y1="645.2" x2="515.6" y2="657.9" stroke="#1c6faa" stroke-width="1.4"/>
<line x1="516.2" y1="645.2" x2="516.2" y2="657.9" stroke="#1c6faa" stroke-width="1.4"/>
<line x1="97.5" y1="659.4" x2="97.5" y2="671.8" stroke="#269526" stroke-width="1.4"/>
<line x1="212" y1="659.4" x2="212" y2="671.8" stroke="#269526" stroke-width="1.4"/>
<line x1="249" y1="659.4" x2="249" y2="671.8" stroke="#269526" stroke-width="1.4"/>
<line x1="250.6" y1="659.4" x2="250.6" y2="671.8" stroke="#269526" stroke-width="1.4"/>
<line x1="268.8" y1="659.4" x2="268.8" y2="671.8" stroke="#269526" stroke-width="1.4"/>
<line x1="272.2" y1="659.4" x2="272.2" y2="671.8" stroke="#269526" stroke-width="1.4"/>
<line x1="318.5" y1="659.4" x2="318.5" y2="671.8" stroke="#269526" stroke-width="1.4"/>
<line x1="336.2" y1="659.4" x2="336.2" y2="671.8" stroke="#269526" stroke-width="1.4"/>
<line x1="346.5" y1="659.4" x2="346.5" y2="671.8" stroke="#269526" stroke-width="1.4"/>
<line x1="361.9" y1="659.4" x2="361.9" y2="671.8" stroke="#269526" stroke-width="1.4"/>
<line x1="393.1" y1="659.4" x2="393.1" y2="671.8" stroke="#269526" stroke-width="1.4"/>
<line x1="397" y1="659.4" x2="397" y2="671.8" stroke="#269526" stroke-width="1.4"/>
<line x1="398.5" y1="659.4" x2="398.5" y2="671.8" stroke="#269526" stroke-width="1.4"/>
<line x1="424.4" y1="659.4" x2="424.4" y2="671.8" stroke="#269526" stroke-width="1.4"/>
<line x1="510.2" y1="659.4" x2="510.2" y2="671.8" stroke="#269526" stroke-width="1.4"/>
<line x1="511.6" y1="659.4" x2="511.6" y2="671.8" stroke="#269526" stroke-width="1.4"/>
<line x1="515.6" y1="659.4" x2="515.6" y2="671.8" stroke="#269526" stroke-width="1.4"/>
<line x1="516.2" y1="659.4" x2="516.2" y2="671.8" stroke="#269526" stroke-width="1.4"/>
<line x1="172" y1="673.2" x2="172" y2="686.3" stroke="#7f7f7f" stroke-width="1.4"/>
<line x1="193.3" y1="673.2" x2="193.3" y2="686.3" stroke="#7f7f7f" stroke-width="1.4"/>
<line x1="212" y1="673.2" x2="212" y2="686.3" stroke="#7f7f7f" stroke-width="1.4"/>
<line x1="310.3" y1="673.2" x2="310.3" y2="686.3" stroke="#7f7f7f" stroke-width="1.4"/>
<line x1="389.4" y1="673.2" x2="389.4" y2="686.3" stroke="#7f7f7f" stroke-width="1.4"/>
<line x1="437.9" y1="673.2" x2="437.9" y2="686.3" stroke="#7f7f7f" stroke-width="1.4"/>
<line x1="469.4" y1="673.2" x2="469.4" y2="686.3" stroke="#7f7f7f" stroke-width="1.4"/>
<line x1="480.7" y1="673.2" x2="480.7" y2="686.3" stroke="#7f7f7f" stroke-width="1.4"/>
<line x1="490.6" y1="673.2" x2="490.6" y2="686.3" stroke="#7f7f7f" stroke-width="1.4"/>
<line x1="513.1" y1="673.2" x2="513.1" y2="686.3" stroke="#7f7f7f" stroke-width="1.4"/>
<line x1="335.7" y1="673.2" x2="335.7" y2="686.3" stroke="#9467bd" stroke-width="1.4"/>
<line x1="365" y1="673.2" x2="365" y2="686.3" stroke="#9467bd" stroke-width="1.4"/>
<line x1="397.3" y1="673.2" x2="397.3" y2="686.3" stroke="#9467bd" stroke-width="1.4"/>
<rect x="29" y="478.8" width="489.7" height="209.9" fill="none" stroke="#000" stroke-width="1.7"/>
<line x1="59.61" y1="688.7" x2="59.61" y2="696.4" stroke="#000" stroke-width="1.7"/>
<text x="59.61" y="715" font-size="13.5" fill="#000" text-anchor="middle" textLength="8.2" lengthAdjust="spacingAndGlyphs" stroke="#000" stroke-width="0.22">6</text>
<line x1="120.82" y1="688.7" x2="120.82" y2="696.4" stroke="#000" stroke-width="1.7"/>
<text x="120.82" y="715" font-size="13.5" fill="#000" text-anchor="middle" textLength="8.2" lengthAdjust="spacingAndGlyphs" stroke="#000" stroke-width="0.22">8</text>
<line x1="182.03" y1="688.7" x2="182.03" y2="696.4" stroke="#000" stroke-width="1.7"/>
<text x="182.03" y="715" font-size="13.5" fill="#000" text-anchor="middle" textLength="16.4" lengthAdjust="spacingAndGlyphs" stroke="#000" stroke-width="0.22">10</text>
<line x1="243.24" y1="688.7" x2="243.24" y2="696.4" stroke="#000" stroke-width="1.7"/>
<text x="243.24" y="715" font-size="13.5" fill="#000" text-anchor="middle" textLength="16.4" lengthAdjust="spacingAndGlyphs" stroke="#000" stroke-width="0.22">12</text>
<line x1="304.46" y1="688.7" x2="304.46" y2="696.4" stroke="#000" stroke-width="1.7"/>
<text x="304.46" y="715" font-size="13.5" fill="#000" text-anchor="middle" textLength="16.4" lengthAdjust="spacingAndGlyphs" stroke="#000" stroke-width="0.22">14</text>
<line x1="365.67" y1="688.7" x2="365.67" y2="696.4" stroke="#000" stroke-width="1.7"/>
<text x="365.67" y="715" font-size="13.5" fill="#000" text-anchor="middle" textLength="16.4" lengthAdjust="spacingAndGlyphs" stroke="#000" stroke-width="0.22">16</text>
<line x1="426.88" y1="688.7" x2="426.88" y2="696.4" stroke="#000" stroke-width="1.7"/>
<text x="426.88" y="715" font-size="13.5" fill="#000" text-anchor="middle" textLength="16.4" lengthAdjust="spacingAndGlyphs" stroke="#000" stroke-width="0.22">18</text>
<line x1="488.09" y1="688.7" x2="488.09" y2="696.4" stroke="#000" stroke-width="1.7"/>
<text x="488.09" y="715" font-size="13.5" fill="#000" text-anchor="middle" textLength="16.4" lengthAdjust="spacingAndGlyphs" stroke="#000" stroke-width="0.22">20</text>
<text x="274.3" y="736.6" font-size="13.5" fill="#000" text-anchor="middle" textLength="18" lengthAdjust="spacingAndGlyphs" stroke="#000" stroke-width="0.22">2Θ</text>
<text x="0" y="0" font-size="13.5" transform="translate(18.2,583.9) rotate(-90)" text-anchor="middle" textLength="58.0" lengthAdjust="spacingAndGlyphs" stroke="#000" stroke-width="0.22">Intensity</text>
<text x="33.9" y="493.6" font-size="13.5" fill="#000" text-anchor="start" textLength="20.6" lengthAdjust="spacingAndGlyphs" stroke="#000" stroke-width="0.22">(d)</text>
<text x="512.4" y="493.6" font-size="13.5" fill="#000" text-anchor="end" textLength="89.4" lengthAdjust="spacingAndGlyphs" stroke="#000" stroke-width="0.22">λ = 0.3738 Å</text>
<text x="512.8" y="509.9" font-size="13.5" fill="#000" text-anchor="end" textLength="65.6" lengthAdjust="spacingAndGlyphs" stroke="#000" stroke-width="0.22">~140 GPa</text>
<text x="30" y="640.7" font-size="13.5" fill="#cc2532" text-anchor="start" textLength="35.6" lengthAdjust="spacingAndGlyphs" stroke="#cc2532" stroke-width="0.22">C2/m</text>
<text x="30" y="655" font-size="13.5" fill="#269526" text-anchor="start" textLength="12.6" lengthAdjust="spacingAndGlyphs" stroke="#269526" stroke-width="0.22">Ci</text>
<text x="30" y="669.6" font-size="13.5" fill="#1c6faa" text-anchor="start" textLength="31" lengthAdjust="spacingAndGlyphs" stroke="#1c6faa" stroke-width="0.22">C2/c</text>
<text x="30" y="683.5" font-size="13.5" fill="#7f7f7f" text-anchor="start" textLength="15.8" lengthAdjust="spacingAndGlyphs" stroke="#7f7f7f" stroke-width="0.22">Re</text>
<text x="52.2" y="683.5" font-size="13.5" fill="#000" text-anchor="start" textLength="9" lengthAdjust="spacingAndGlyphs" stroke="#000" stroke-width="0.22">+</text>
<text x="63.8" y="683.5" font-size="13.5" fill="#9467bd" text-anchor="start" textLength="17.4" lengthAdjust="spacingAndGlyphs" stroke="#9467bd" stroke-width="0.22">He</text>
</svg>
</body></html>
